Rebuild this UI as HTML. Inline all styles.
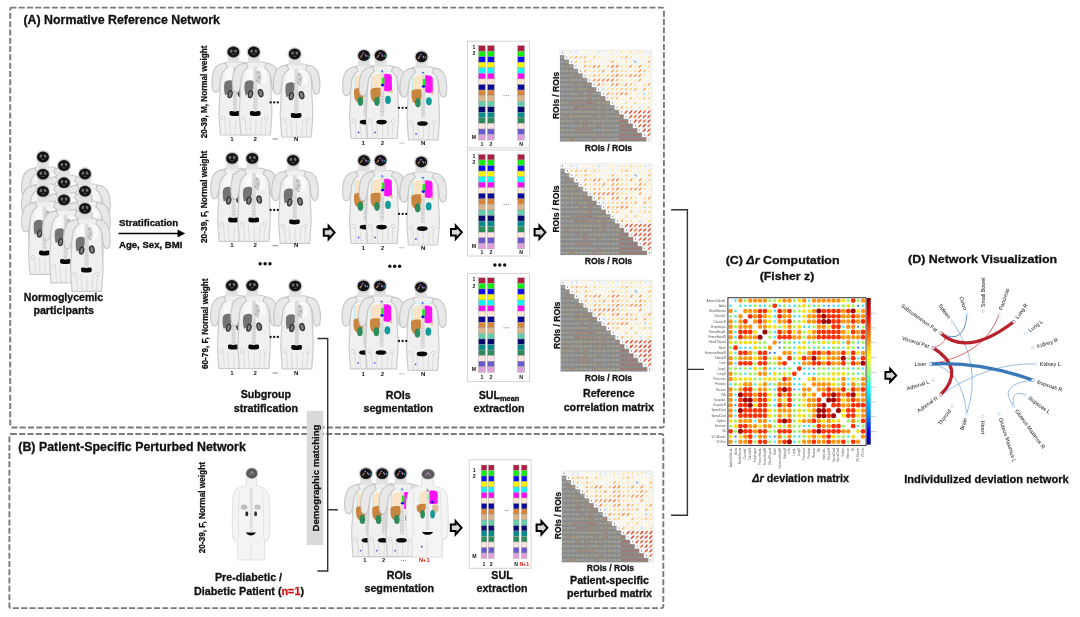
<!DOCTYPE html>
<html><head><meta charset="utf-8"><style>
html,body{margin:0;padding:0;background:#fff;width:1080px;height:617px;overflow:hidden}
svg{display:block;filter:blur(0.4px)}
text{font-family:"Liberation Sans",sans-serif}
</style></head><body>
<svg width="1080" height="617" viewBox="0 0 1080 617">
<defs>
<g id="pb"><path d="M -4.4,5 L -4.6,10 C -8,10.4 -11,11.6 -12.2,14.5 C -12.9,22 -13.2,30 -13.4,40 C -13.6,46 -14.3,54 -14.4,61 C -14,70 -13.4,77 -12.9,83 L 16.5,83 C 17,77 17.6,70 18,61 C 18.1,54 17.4,46 17.2,40 C 17,30 16.7,22 16,14.5 C 14.8,11.6 11.8,10.4 9.2,10 L 4.4,10 L 4.4,5 Z" fill="#f0f0f0" stroke="#cbcbcb" stroke-width="1.2"/><path d="M -8,17 C -6,15 8,15 12.5,17 L 13,30 C 8,32 -4,32 -8.5,30 Z" fill="#f8f8f8"/><path d="M 2,68 L 2,83 M -8.5,67 L -7.5,83 M 12.5,67 L 11.5,83 M -4,66 L -3,82 M 8,66 L 7,82" stroke="#d6d6d6" stroke-width="0.8" fill="none"/><rect x="-0.4" y="15" width="4" height="46" fill="#dcdcdc"/><path d="M -0.4,38 h4 M-0.4,41 h4 M-0.4,44 h4 M-0.4,47 h4 M-0.4,50 h4 M-0.4,53 h4 M-0.4,56 h4" stroke="#c6c6c6" stroke-width="0.6"/><circle cx="-10.3" cy="65.7" r="1.7" fill="#fafafa" stroke="#c4c4c4" stroke-width="0.7"/><circle cx="12.3" cy="65.7" r="1.7" fill="#fafafa" stroke="#c4c4c4" stroke-width="0.7"/><path d="M -7.5,11.2 C -13.5,11.2 -18,13.8 -19.8,19.5 C -21.6,25.5 -21.8,32.5 -20.6,37.6 C -19.8,40.4 -16.8,41 -15.2,39.4 C -13.8,37 -13.2,33 -12.7,28 C -12.2,22 -10,18 -6,15.8 Z" fill="#e8e8e8" stroke="#c6c6c6" stroke-width="1.1"/><path d="M 12.3,11.2 C 17.8,11.2 21.8,13.8 23.6,19.5 C 25.3,25.5 25.6,32.5 24.6,37.6 C 23.8,40.2 21,40.8 19.6,39.2 C 18.4,37 17.8,33 17.3,28 C 16.8,22 14.8,18 10.8,15.8 Z" fill="#e8e8e8" stroke="#c6c6c6" stroke-width="1.1"/><path d="M -5.6,4 L 5.6,4 L 6.4,11 L -6.2,11 Z" fill="#e2e2e2"/><ellipse cx="4.6" cy="25" rx="3.2" ry="6.5" fill="#d0d0d0"/><circle cx="4.2" cy="20.5" r="1.2" fill="#b4b4b4"/><circle cx="5.4" cy="25.5" r="1.4" fill="#b8b8b8"/><circle cx="3.4" cy="28.5" r="1" fill="#b0b0b0"/><circle cx="5.6" cy="31" r="0.9" fill="#b8b8b8"/><path d="M -0.3,29.5 C -2,27.8 -7,27.6 -8.7,30.5 C -9.7,33 -9.5,38.5 -8.3,43.2 C -5.5,42.4 -2,39.5 -0.4,36.5 Z" fill="#747474"/><ellipse cx="-3.3" cy="42.1" rx="2.0" ry="3.6" fill="#808080" stroke="#333" stroke-width="1.3" transform="rotate(15 -3.3 42.1)"/><ellipse cx="6.9" cy="41.2" rx="2.2" ry="3.6" fill="#808080" stroke="#333" stroke-width="1.3" transform="rotate(-12 6.9 41.2)"/><path d="M -3.9,60.5 C -3.9,58.6 -1,58.9 1.4,59.8 C 3.8,58.9 6.7,58.6 6.7,60.5 L 6.7,62.5 C 6.7,64.6 -3.9,64.6 -3.9,62.5 Z" fill="#060606"/><ellipse cx="0" cy="0" rx="7.2" ry="6.8" fill="#cfcfcf"/><ellipse cx="0" cy="0" rx="6" ry="5.4" fill="#141414"/><ellipse cx="-2.1" cy="-0.9" rx="1.3" ry="1.7" fill="#6e6e6e" transform="rotate(20 -2.1 -0.9)"/><ellipse cx="2.1" cy="-0.9" rx="1.3" ry="1.7" fill="#6e6e6e" transform="rotate(-20 2.1 -0.9)"/><ellipse cx="0" cy="2.3" rx="1.6" ry="0.7" fill="#4a4a4a"/></g>
<g id="sb"><path d="M -4.4,5 L -4.6,10 C -8,10.4 -11,11.6 -12.2,14.5 C -12.9,22 -13.2,30 -13.4,40 C -13.6,46 -14.3,54 -14.4,61 C -14,70 -13.4,77 -12.9,83 L 16.5,83 C 17,77 17.6,70 18,61 C 18.1,54 17.4,46 17.2,40 C 17,30 16.7,22 16,14.5 C 14.8,11.6 11.8,10.4 9.2,10 L 4.4,10 L 4.4,5 Z" fill="#f0f0f0" stroke="#cbcbcb" stroke-width="1.2"/><path d="M -8,17 C -6,15 8,15 12.5,17 L 13,30 C 8,32 -4,32 -8.5,30 Z" fill="#f8f8f8"/><path d="M 2,68 L 2,83 M -8.5,67 L -7.5,83 M 12.5,67 L 11.5,83 M -4,66 L -3,82 M 8,66 L 7,82" stroke="#d6d6d6" stroke-width="0.8" fill="none"/><rect x="-0.4" y="15" width="4" height="46" fill="#dcdcdc"/><path d="M -0.4,38 h4 M-0.4,41 h4 M-0.4,44 h4 M-0.4,47 h4 M-0.4,50 h4 M-0.4,53 h4 M-0.4,56 h4" stroke="#c6c6c6" stroke-width="0.6"/><circle cx="-10.3" cy="65.7" r="1.7" fill="#fafafa" stroke="#c4c4c4" stroke-width="0.7"/><circle cx="12.3" cy="65.7" r="1.7" fill="#fafafa" stroke="#c4c4c4" stroke-width="0.7"/><path d="M -7.5,11.2 C -13.5,11.2 -18,13.8 -19.8,19.5 C -21.6,25.5 -21.8,32.5 -20.6,37.6 C -19.8,40.4 -16.8,41 -15.2,39.4 C -13.8,37 -13.2,33 -12.7,28 C -12.2,22 -10,18 -6,15.8 Z" fill="#e8e8e8" stroke="#c6c6c6" stroke-width="1.1"/><path d="M 12.3,11.2 C 17.8,11.2 21.8,13.8 23.6,19.5 C 25.3,25.5 25.6,32.5 24.6,37.6 C 23.8,40.2 21,40.8 19.6,39.2 C 18.4,37 17.8,33 17.3,28 C 16.8,22 14.8,18 10.8,15.8 Z" fill="#e8e8e8" stroke="#c6c6c6" stroke-width="1.1"/><path d="M -5.6,4 L 5.6,4 L 6.4,11 L -6.2,11 Z" fill="#e2e2e2"/><path d="M -8.2,21.3 C -8.2,18.8 -4,18.1 1.2,18.5 L 1.4,35.3 C -1,36.8 -5,37.3 -8,36.5 Z" fill="#fbe4c6"/><path d="M 3.6,18.6 C 7,17.8 10.5,18.5 11.2,21 L 11.4,35 C 9,36.4 5.5,36.2 3.6,35.2 Z" fill="#ff10f5"/><path d="M -8.9,20 L -8.9,35.5" stroke="#8fe6e6" stroke-width="1" stroke-dasharray="1.2,0.8"/><path d="M -7,16.2 L 10,16.2" stroke="#a8eeee" stroke-width="0.7" stroke-dasharray="1.2,0.8"/><rect x="1.2" y="22" width="2.6" height="7.5" rx="1" fill="#22e622"/><ellipse cx="2" cy="29.6" rx="1.7" ry="1.3" fill="#1010dd"/><circle cx="1.6" cy="15.6" r="0.8" fill="#3030d0"/><ellipse cx="10.8" cy="36" rx="1.6" ry="1.5" fill="#dfc39c"/><path d="M -10,36 C -10.5,32.5 -6,31.8 -0.2,32.6 L 0,38 C 0,43 -2.5,46.2 -6,46.4 C -9,46.2 -10,42 -10,38 Z" fill="#c98640"/><ellipse cx="-3.6" cy="45.8" rx="2.8" ry="4.6" fill="#2f8c5a"/><ellipse cx="7.4" cy="44.4" rx="2.9" ry="4.1" fill="#159a9a"/><ellipse cx="1" cy="66.6" rx="5.3" ry="2.3" fill="#070707"/><circle cx="-5.4" cy="77" r="0.9" fill="#5858ee"/><ellipse cx="0" cy="0" rx="7.2" ry="6.8" fill="#cfcfcf"/><ellipse cx="0" cy="0" rx="5.9" ry="5.4" fill="#141414"/><path d="M -3.6,2.2 L -1.6,-0.8" stroke="#d08a60" stroke-width="1.1"/><path d="M -1.4,-1.6 L 0,-3" stroke="#b070e0" stroke-width="1.1"/><path d="M 1.2,-1.2 L 2.6,1.2" stroke="#b088e0" stroke-width="1.1"/><path d="M 3.8,-0.4 L 4.4,1.4" stroke="#20b0b0" stroke-width="1.1"/></g>
<g id="rc"><rect x="0" y="0" width="6.8" height="5.56" fill="#ac1f42" stroke="#a0a0a0" stroke-width="0.4"/><rect x="0" y="5.56" width="6.8" height="5.56" fill="#12ee12" stroke="#a0a0a0" stroke-width="0.4"/><rect x="0" y="11.12" width="6.8" height="5.56" fill="#1010ee" stroke="#a0a0a0" stroke-width="0.4"/><rect x="0" y="16.68" width="6.8" height="5.56" fill="#f5f500" stroke="#a0a0a0" stroke-width="0.4"/><rect x="0" y="22.24" width="6.8" height="5.56" fill="#0ff6f6" stroke="#a0a0a0" stroke-width="0.4"/><rect x="0" y="27.8" width="6.8" height="5.56" fill="#f70ef7" stroke="#a0a0a0" stroke-width="0.4"/><rect x="0" y="33.36" width="6.8" height="5.56" fill="#fde8cf" stroke="#a0a0a0" stroke-width="0.4"/><rect x="0" y="38.92" width="6.8" height="5.56" fill="#0a0a98" stroke="#a0a0a0" stroke-width="0.4"/><rect x="0" y="44.48" width="6.8" height="5.56" fill="#d7853c" stroke="#a0a0a0" stroke-width="0.4"/><rect x="0" y="50.04" width="6.8" height="5.56" fill="#d8b48c" stroke="#a0a0a0" stroke-width="0.4"/><rect x="0" y="55.6" width="6.8" height="5.56" fill="#66cdaa" stroke="#a0a0a0" stroke-width="0.4"/><rect x="0" y="61.16" width="6.8" height="5.56" fill="#06066e" stroke="#a0a0a0" stroke-width="0.4"/><rect x="0" y="66.72" width="6.8" height="5.56" fill="#058b8b" stroke="#a0a0a0" stroke-width="0.4"/><rect x="0" y="72.28" width="6.8" height="5.56" fill="#2e8b57" stroke="#a0a0a0" stroke-width="0.4"/><rect x="0" y="77.84" width="6.8" height="5.56" fill="#ffe4e1" stroke="#a0a0a0" stroke-width="0.4"/><rect x="0" y="83.4" width="6.8" height="5.56" fill="#6a5acd" stroke="#a0a0a0" stroke-width="0.4"/><rect x="0" y="88.96" width="6.8" height="5.56" fill="#dda0dd" stroke="#a0a0a0" stroke-width="0.4"/></g>
<g id="rc2"><rect x="0" y="0" width="5.6" height="5.5" fill="#ac1f42" stroke="#a0a0a0" stroke-width="0.4"/><rect x="0" y="5.5" width="5.6" height="5.5" fill="#12ee12" stroke="#a0a0a0" stroke-width="0.4"/><rect x="0" y="11" width="5.6" height="5.5" fill="#1010ee" stroke="#a0a0a0" stroke-width="0.4"/><rect x="0" y="16.5" width="5.6" height="5.5" fill="#f5f500" stroke="#a0a0a0" stroke-width="0.4"/><rect x="0" y="22" width="5.6" height="5.5" fill="#0ff6f6" stroke="#a0a0a0" stroke-width="0.4"/><rect x="0" y="27.5" width="5.6" height="5.5" fill="#f70ef7" stroke="#a0a0a0" stroke-width="0.4"/><rect x="0" y="33" width="5.6" height="5.5" fill="#fde8cf" stroke="#a0a0a0" stroke-width="0.4"/><rect x="0" y="38.5" width="5.6" height="5.5" fill="#0a0a98" stroke="#a0a0a0" stroke-width="0.4"/><rect x="0" y="44" width="5.6" height="5.5" fill="#d7853c" stroke="#a0a0a0" stroke-width="0.4"/><rect x="0" y="49.5" width="5.6" height="5.5" fill="#d8b48c" stroke="#a0a0a0" stroke-width="0.4"/><rect x="0" y="55" width="5.6" height="5.5" fill="#66cdaa" stroke="#a0a0a0" stroke-width="0.4"/><rect x="0" y="60.5" width="5.6" height="5.5" fill="#06066e" stroke="#a0a0a0" stroke-width="0.4"/><rect x="0" y="66" width="5.6" height="5.5" fill="#058b8b" stroke="#a0a0a0" stroke-width="0.4"/><rect x="0" y="71.5" width="5.6" height="5.5" fill="#2e8b57" stroke="#a0a0a0" stroke-width="0.4"/><rect x="0" y="77" width="5.6" height="5.5" fill="#ffe4e1" stroke="#a0a0a0" stroke-width="0.4"/><rect x="0" y="82.5" width="5.6" height="5.5" fill="#6a5acd" stroke="#a0a0a0" stroke-width="0.4"/><rect x="0" y="88" width="5.6" height="5.5" fill="#dda0dd" stroke="#a0a0a0" stroke-width="0.4"/></g>
<g id="cm"><rect x="0" y="0" width="91.2" height="91.2" fill="#fff" stroke="#e0e0e0" stroke-width="0.5"/><polygon points="0,4.56 4.56,4.56 4.56,9.12 9.12,9.12 9.12,13.68 13.68,13.68 13.68,18.24 18.24,18.24 18.24,22.8 22.8,22.8 22.8,27.36 27.36,27.36 27.36,31.92 31.92,31.92 31.92,36.48 36.48,36.48 36.48,41.04 41.04,41.04 41.04,45.6 45.6,45.6 45.6,50.16 50.16,50.16 50.16,54.72 54.72,54.72 54.72,59.28 59.28,59.28 59.28,63.84 63.84,63.84 63.84,68.4 68.4,68.4 68.4,72.96 72.96,72.96 72.96,77.52 77.52,77.52 77.52,82.08 82.08,82.08 82.08,86.64 86.64,86.64 86.64,91.2 91.2,91.2 0,91.2" fill="#8b8b8b"/><path d="M0,0 V4.56 M0,0 H91.2 M4.56,0 V9.12 M0,4.56 H91.2 M9.12,0 V13.68 M4.56,9.12 H91.2 M13.68,0 V18.24 M9.12,13.68 H91.2 M18.24,0 V22.8 M13.68,18.24 H91.2 M22.8,0 V27.36 M18.24,22.8 H91.2 M27.36,0 V31.92 M22.8,27.36 H91.2 M31.92,0 V36.48 M27.36,31.92 H91.2 M36.48,0 V41.04 M31.92,36.48 H91.2 M41.04,0 V45.6 M36.48,41.04 H91.2 M45.6,0 V50.16 M41.04,45.6 H91.2 M50.16,0 V54.72 M45.6,50.16 H91.2 M54.72,0 V59.28 M50.16,54.72 H91.2 M59.28,0 V63.84 M54.72,59.28 H91.2 M63.84,0 V68.4 M59.28,63.84 H91.2 M68.4,0 V72.96 M63.84,68.4 H91.2 M72.96,0 V77.52 M68.4,72.96 H91.2 M77.52,0 V82.08 M72.96,77.52 H91.2 M82.08,0 V86.64 M77.52,82.08 H91.2 M86.64,0 V91.2 M82.08,86.64 H91.2 M91.2,0 V91.2 M86.64,91.2 H91.2" stroke="#e2e2e2" stroke-width="0.45" fill="none"/><rect x="1.98" y="1.48" width="0.6" height="1.6" fill="#444"/><ellipse cx="6.84" cy="2.28" rx="1.32" ry="1.29" fill="#fbf5df" transform="rotate(-45 6.84 2.28)"/><ellipse cx="11.4" cy="2.28" rx="1.37" ry="1.27" fill="#d8e6ec" transform="rotate(45 11.4 2.28)"/><ellipse cx="15.96" cy="2.28" rx="1.37" ry="1.26" fill="#d6e5ec" transform="rotate(45 15.96 2.28)"/><ellipse cx="20.52" cy="2.28" rx="1.33" ry="1.28" fill="#fbf4da" transform="rotate(-45 20.52 2.28)"/><ellipse cx="25.08" cy="2.28" rx="1.4" ry="1.25" fill="#fcf0c5" transform="rotate(-45 25.08 2.28)"/><ellipse cx="29.64" cy="2.28" rx="1.3" ry="1.3" fill="#fbf6e2" transform="rotate(-45 29.64 2.28)"/><ellipse cx="34.2" cy="2.28" rx="1.47" ry="1.21" fill="#feecaf" transform="rotate(-45 34.2 2.28)"/><ellipse cx="38.76" cy="2.28" rx="1.38" ry="1.26" fill="#d5e4eb" transform="rotate(45 38.76 2.28)"/><ellipse cx="43.32" cy="2.28" rx="1.31" ry="1.3" fill="#e4edef" transform="rotate(45 43.32 2.28)"/><ellipse cx="47.88" cy="2.28" rx="1.39" ry="1.26" fill="#fcf1ca" transform="rotate(-45 47.88 2.28)"/><ellipse cx="52.44" cy="2.28" rx="1.5" ry="1.2" fill="#feeaa6" transform="rotate(-45 52.44 2.28)"/><ellipse cx="57" cy="2.28" rx="1.32" ry="1.29" fill="#e1ebef" transform="rotate(45 57 2.28)"/><ellipse cx="61.56" cy="2.28" rx="1.52" ry="1.19" fill="#fee7a2" transform="rotate(-45 61.56 2.28)"/><ellipse cx="66.12" cy="2.28" rx="1.48" ry="1.21" fill="#feebae" transform="rotate(-45 66.12 2.28)"/><ellipse cx="70.68" cy="2.28" rx="1.57" ry="1.16" fill="#fedf99" transform="rotate(-45 70.68 2.28)"/><ellipse cx="75.24" cy="2.28" rx="1.47" ry="1.22" fill="#feecaf" transform="rotate(-45 75.24 2.28)"/><ellipse cx="79.8" cy="2.28" rx="1.54" ry="1.18" fill="#fee39e" transform="rotate(-45 79.8 2.28)"/><ellipse cx="84.36" cy="2.28" rx="1.34" ry="1.28" fill="#dce8ed" transform="rotate(45 84.36 2.28)"/><ellipse cx="88.92" cy="2.28" rx="1.33" ry="1.29" fill="#e0eaee" transform="rotate(45 88.92 2.28)"/><rect x="0.48" y="6.14" width="3.6" height="1.4" fill="#b4b8ac" opacity="0.6"/><rect x="6.54" y="6.04" width="0.6" height="1.6" fill="#444"/><ellipse cx="11.4" cy="6.84" rx="1.66" ry="1.12" fill="#fdd188" transform="rotate(-45 11.4 6.84)"/><ellipse cx="15.96" cy="6.84" rx="1.76" ry="1.07" fill="#fcbe76" transform="rotate(-45 15.96 6.84)"/><ellipse cx="20.52" cy="6.84" rx="1.63" ry="1.14" fill="#fdd68f" transform="rotate(-45 20.52 6.84)"/><ellipse cx="25.08" cy="6.84" rx="1.74" ry="1.08" fill="#fcc179" transform="rotate(-45 25.08 6.84)"/><ellipse cx="29.64" cy="6.84" rx="1.41" ry="1.25" fill="#fdefc2" transform="rotate(-45 29.64 6.84)"/><ellipse cx="34.2" cy="6.84" rx="1.65" ry="1.12" fill="#fdd28a" transform="rotate(-45 34.2 6.84)"/><ellipse cx="38.76" cy="6.84" rx="1.48" ry="1.21" fill="#feebab" transform="rotate(-45 38.76 6.84)"/><ellipse cx="43.32" cy="6.84" rx="1.36" ry="1.27" fill="#fcf2d1" transform="rotate(-45 43.32 6.84)"/><ellipse cx="47.88" cy="6.84" rx="1.33" ry="1.28" fill="#fbf4da" transform="rotate(-45 47.88 6.84)"/><ellipse cx="52.44" cy="6.84" rx="1.41" ry="1.24" fill="#fdefc2" transform="rotate(-45 52.44 6.84)"/><ellipse cx="57" cy="6.84" rx="1.44" ry="1.23" fill="#fdeeb9" transform="rotate(-45 57 6.84)"/><ellipse cx="61.56" cy="6.84" rx="1.61" ry="1.15" fill="#fdd993" transform="rotate(-45 61.56 6.84)"/><ellipse cx="66.12" cy="6.84" rx="1.76" ry="1.07" fill="#fcbf77" transform="rotate(-45 66.12 6.84)"/><ellipse cx="70.68" cy="6.84" rx="1.52" ry="1.19" fill="#fee7a3" transform="rotate(-45 70.68 6.84)"/><ellipse cx="75.24" cy="6.84" rx="1.34" ry="1.28" fill="#fcf4d9" transform="rotate(-45 75.24 6.84)"/><ellipse cx="79.8" cy="6.84" rx="1.46" ry="1.22" fill="#fdecb3" transform="rotate(-45 79.8 6.84)"/><ellipse cx="84.36" cy="6.84" rx="1.35" ry="1.27" fill="#fcf3d4" transform="rotate(-45 84.36 6.84)"/><ellipse cx="88.92" cy="6.84" rx="1.52" ry="1.19" fill="#fee6a2" transform="rotate(-45 88.92 6.84)"/><rect x="0.48" y="10.7" width="3.6" height="1.4" fill="#a8b8d0" opacity="0.6"/><rect x="5.04" y="10.7" width="3.6" height="1.4" fill="#c8b47c" opacity="0.6"/><rect x="11.1" y="10.6" width="0.6" height="1.6" fill="#444"/><ellipse cx="15.96" cy="11.4" rx="1.67" ry="1.11" fill="#fdcf87" transform="rotate(-45 15.96 11.4)"/><ellipse cx="20.52" cy="11.4" rx="1.41" ry="1.24" fill="#fdefc2" transform="rotate(-45 20.52 11.4)"/><ellipse cx="25.08" cy="11.4" rx="1.72" ry="1.09" fill="#fdc77f" transform="rotate(-45 25.08 11.4)"/><ellipse cx="29.64" cy="11.4" rx="1.53" ry="1.18" fill="#fee5a0" transform="rotate(-45 29.64 11.4)"/><ellipse cx="34.2" cy="11.4" rx="1.4" ry="1.25" fill="#fdf0c4" transform="rotate(-45 34.2 11.4)"/><ellipse cx="38.76" cy="11.4" rx="1.34" ry="1.28" fill="#fcf3d6" transform="rotate(-45 38.76 11.4)"/><ellipse cx="43.32" cy="11.4" rx="1.32" ry="1.29" fill="#fbf5dd" transform="rotate(-45 43.32 11.4)"/><ellipse cx="47.88" cy="11.4" rx="1.4" ry="1.25" fill="#fcf0c6" transform="rotate(-45 47.88 11.4)"/><ellipse cx="52.44" cy="11.4" rx="1.76" ry="1.07" fill="#fcbe76" transform="rotate(-45 52.44 11.4)"/><ellipse cx="57" cy="11.4" rx="1.47" ry="1.22" fill="#feecb0" transform="rotate(-45 57 11.4)"/><ellipse cx="61.56" cy="11.4" rx="1.41" ry="1.25" fill="#fdf0c3" transform="rotate(-45 61.56 11.4)"/><ellipse cx="66.12" cy="11.4" rx="1.57" ry="1.17" fill="#fedf9a" transform="rotate(-45 66.12 11.4)"/><ellipse cx="70.68" cy="11.4" rx="1.4" ry="1.25" fill="#fcf0c6" transform="rotate(-45 70.68 11.4)"/><ellipse cx="75.24" cy="11.4" rx="1.64" ry="1.13" fill="#9dc4dc" transform="rotate(45 75.24 11.4)"/><ellipse cx="79.8" cy="11.4" rx="1.39" ry="1.26" fill="#fcf1c8" transform="rotate(-45 79.8 11.4)"/><ellipse cx="84.36" cy="11.4" rx="1.36" ry="1.27" fill="#fcf2d1" transform="rotate(-45 84.36 11.4)"/><ellipse cx="88.92" cy="11.4" rx="1.76" ry="1.07" fill="#fcbf77" transform="rotate(-45 88.92 11.4)"/><rect x="0.48" y="15.26" width="3.6" height="1.4" fill="#a8b8d0" opacity="0.6"/><rect x="5.04" y="15.26" width="3.6" height="1.4" fill="#c88a60" opacity="0.6"/><rect x="9.6" y="15.26" width="3.6" height="1.4" fill="#c8b47c" opacity="0.6"/><rect x="15.66" y="15.16" width="0.6" height="1.6" fill="#444"/><ellipse cx="20.52" cy="15.96" rx="1.37" ry="1.27" fill="#fcf2cf" transform="rotate(-45 20.52 15.96)"/><ellipse cx="25.08" cy="15.96" rx="1.8" ry="1.05" fill="#fbb56f" transform="rotate(-45 25.08 15.96)"/><ellipse cx="29.64" cy="15.96" rx="1.65" ry="1.12" fill="#fdd28a" transform="rotate(-45 29.64 15.96)"/><ellipse cx="34.2" cy="15.96" rx="1.95" ry="0.97" fill="#f79456" transform="rotate(-45 34.2 15.96)"/><ellipse cx="38.76" cy="15.96" rx="1.9" ry="1" fill="#f9a05c" transform="rotate(-45 38.76 15.96)"/><ellipse cx="43.32" cy="15.96" rx="1.43" ry="1.24" fill="#fdeebd" transform="rotate(-45 43.32 15.96)"/><ellipse cx="47.88" cy="15.96" rx="1.68" ry="1.11" fill="#fdce85" transform="rotate(-45 47.88 15.96)"/><ellipse cx="52.44" cy="15.96" rx="2" ry="0.95" fill="#f68950" transform="rotate(-45 52.44 15.96)"/><ellipse cx="57" cy="15.96" rx="2.01" ry="0.94" fill="#f5864e" transform="rotate(-45 57 15.96)"/><ellipse cx="61.56" cy="15.96" rx="1.57" ry="1.16" fill="#fedf99" transform="rotate(-45 61.56 15.96)"/><ellipse cx="66.12" cy="15.96" rx="1.57" ry="1.17" fill="#fee09a" transform="rotate(-45 66.12 15.96)"/><ellipse cx="70.68" cy="15.96" rx="1.87" ry="1.02" fill="#faa863" transform="rotate(-45 70.68 15.96)"/><ellipse cx="75.24" cy="15.96" rx="1.46" ry="1.22" fill="#fdecb1" transform="rotate(-45 75.24 15.96)"/><ellipse cx="79.8" cy="15.96" rx="1.9" ry="1" fill="#f9a15c" transform="rotate(-45 79.8 15.96)"/><ellipse cx="84.36" cy="15.96" rx="1.42" ry="1.24" fill="#fdefbf" transform="rotate(-45 84.36 15.96)"/><ellipse cx="88.92" cy="15.96" rx="1.63" ry="1.14" fill="#fdd68f" transform="rotate(-45 88.92 15.96)"/><rect x="0.48" y="19.82" width="3.6" height="1.4" fill="#b4b8ac" opacity="0.6"/><rect x="5.04" y="19.82" width="3.6" height="1.4" fill="#c8b47c" opacity="0.6"/><rect x="9.6" y="19.82" width="3.6" height="1.4" fill="#b4b8ac" opacity="0.6"/><rect x="14.16" y="19.82" width="3.6" height="1.4" fill="#b4b8ac" opacity="0.6"/><rect x="20.22" y="19.72" width="0.6" height="1.6" fill="#444"/><ellipse cx="25.08" cy="20.52" rx="1.74" ry="1.08" fill="#fcc37b" transform="rotate(-45 25.08 20.52)"/><ellipse cx="29.64" cy="20.52" rx="1.48" ry="1.21" fill="#feebad" transform="rotate(-45 29.64 20.52)"/><ellipse cx="34.2" cy="20.52" rx="1.62" ry="1.14" fill="#fdd790" transform="rotate(-45 34.2 20.52)"/><ellipse cx="38.76" cy="20.52" rx="1.62" ry="1.14" fill="#fdd891" transform="rotate(-45 38.76 20.52)"/><ellipse cx="43.32" cy="20.52" rx="1.86" ry="1.02" fill="#faa964" transform="rotate(-45 43.32 20.52)"/><ellipse cx="47.88" cy="20.52" rx="1.39" ry="1.25" fill="#fcf0c7" transform="rotate(-45 47.88 20.52)"/><ellipse cx="52.44" cy="20.52" rx="1.86" ry="1.02" fill="#faaa64" transform="rotate(-45 52.44 20.52)"/><ellipse cx="57" cy="20.52" rx="1.75" ry="1.07" fill="#fcbf78" transform="rotate(-45 57 20.52)"/><ellipse cx="61.56" cy="20.52" rx="1.57" ry="1.17" fill="#fedf9a" transform="rotate(-45 61.56 20.52)"/><ellipse cx="66.12" cy="20.52" rx="1.58" ry="1.16" fill="#fedd97" transform="rotate(-45 66.12 20.52)"/><ellipse cx="70.68" cy="20.52" rx="1.41" ry="1.24" fill="#fdefc2" transform="rotate(-45 70.68 20.52)"/><ellipse cx="75.24" cy="20.52" rx="1.64" ry="1.13" fill="#fdd58d" transform="rotate(-45 75.24 20.52)"/><ellipse cx="79.8" cy="20.52" rx="1.9" ry="1" fill="#f9a15d" transform="rotate(-45 79.8 20.52)"/><ellipse cx="84.36" cy="20.52" rx="1.71" ry="1.1" fill="#fdca81" transform="rotate(-45 84.36 20.52)"/><ellipse cx="88.92" cy="20.52" rx="1.48" ry="1.21" fill="#feebad" transform="rotate(-45 88.92 20.52)"/><rect x="0.48" y="24.38" width="3.6" height="1.4" fill="#b4b8ac" opacity="0.6"/><rect x="5.04" y="24.38" width="3.6" height="1.4" fill="#c8b47c" opacity="0.6"/><rect x="9.6" y="24.38" width="3.6" height="1.4" fill="#c8b47c" opacity="0.6"/><rect x="14.16" y="24.38" width="3.6" height="1.4" fill="#c88a60" opacity="0.6"/><rect x="18.72" y="24.38" width="3.6" height="1.4" fill="#c8b47c" opacity="0.6"/><rect x="24.78" y="24.28" width="0.6" height="1.6" fill="#444"/><ellipse cx="29.64" cy="25.08" rx="1.55" ry="1.17" fill="#fee29d" transform="rotate(-45 29.64 25.08)"/><ellipse cx="34.2" cy="25.08" rx="1.77" ry="1.06" fill="#fcbb74" transform="rotate(-45 34.2 25.08)"/><ellipse cx="38.76" cy="25.08" rx="1.7" ry="1.1" fill="#fdca81" transform="rotate(-45 38.76 25.08)"/><ellipse cx="43.32" cy="25.08" rx="1.49" ry="1.21" fill="#feebaa" transform="rotate(-45 43.32 25.08)"/><ellipse cx="47.88" cy="25.08" rx="1.67" ry="1.12" fill="#fdd088" transform="rotate(-45 47.88 25.08)"/><ellipse cx="52.44" cy="25.08" rx="1.79" ry="1.06" fill="#fbb871" transform="rotate(-45 52.44 25.08)"/><ellipse cx="57" cy="25.08" rx="1.98" ry="0.96" fill="#f68e53" transform="rotate(-45 57 25.08)"/><ellipse cx="61.56" cy="25.08" rx="1.71" ry="1.1" fill="#fdc981" transform="rotate(-45 61.56 25.08)"/><ellipse cx="66.12" cy="25.08" rx="1.68" ry="1.11" fill="#fdce85" transform="rotate(-45 66.12 25.08)"/><ellipse cx="70.68" cy="25.08" rx="1.91" ry="0.99" fill="#f99d5a" transform="rotate(-45 70.68 25.08)"/><ellipse cx="75.24" cy="25.08" rx="1.91" ry="0.99" fill="#f99d5a" transform="rotate(-45 75.24 25.08)"/><ellipse cx="79.8" cy="25.08" rx="1.91" ry="0.99" fill="#f99d5a" transform="rotate(-45 79.8 25.08)"/><ellipse cx="84.36" cy="25.08" rx="1.53" ry="1.19" fill="#fee6a1" transform="rotate(-45 84.36 25.08)"/><ellipse cx="88.92" cy="25.08" rx="1.38" ry="1.26" fill="#fcf1ca" transform="rotate(-45 88.92 25.08)"/><rect x="0.48" y="28.94" width="3.6" height="1.4" fill="#b4b8ac" opacity="0.6"/><rect x="5.04" y="28.94" width="3.6" height="1.4" fill="#b4b8ac" opacity="0.6"/><rect x="9.6" y="28.94" width="3.6" height="1.4" fill="#c8b47c" opacity="0.6"/><rect x="14.16" y="28.94" width="3.6" height="1.4" fill="#c8b47c" opacity="0.6"/><rect x="18.72" y="28.94" width="3.6" height="1.4" fill="#b4b8ac" opacity="0.6"/><rect x="23.28" y="28.94" width="3.6" height="1.4" fill="#c8b47c" opacity="0.6"/><rect x="29.34" y="28.84" width="0.6" height="1.6" fill="#444"/><ellipse cx="34.2" cy="29.64" rx="1.92" ry="0.99" fill="#f89c5a" transform="rotate(-45 34.2 29.64)"/><ellipse cx="38.76" cy="29.64" rx="1.89" ry="1.01" fill="#f9a35f" transform="rotate(-45 38.76 29.64)"/><ellipse cx="43.32" cy="29.64" rx="1.96" ry="0.97" fill="#f79154" transform="rotate(-45 43.32 29.64)"/><ellipse cx="47.88" cy="29.64" rx="2" ry="0.95" fill="#f68a50" transform="rotate(-45 47.88 29.64)"/><ellipse cx="52.44" cy="29.64" rx="2.02" ry="0.94" fill="#f5854e" transform="rotate(-45 52.44 29.64)"/><ellipse cx="57" cy="29.64" rx="1.75" ry="1.07" fill="#fcc078" transform="rotate(-45 57 29.64)"/><ellipse cx="61.56" cy="29.64" rx="1.56" ry="1.17" fill="#fee09b" transform="rotate(-45 61.56 29.64)"/><ellipse cx="66.12" cy="29.64" rx="1.48" ry="1.21" fill="#feebac" transform="rotate(-45 66.12 29.64)"/><ellipse cx="70.68" cy="29.64" rx="1.48" ry="1.21" fill="#feebad" transform="rotate(-45 70.68 29.64)"/><ellipse cx="75.24" cy="29.64" rx="1.42" ry="1.24" fill="#fdefbe" transform="rotate(-45 75.24 29.64)"/><ellipse cx="79.8" cy="29.64" rx="1.84" ry="1.03" fill="#faad67" transform="rotate(-45 79.8 29.64)"/><ellipse cx="84.36" cy="29.64" rx="1.39" ry="1.26" fill="#fcf1c9" transform="rotate(-45 84.36 29.64)"/><ellipse cx="88.92" cy="29.64" rx="1.39" ry="1.26" fill="#fcf1c8" transform="rotate(-45 88.92 29.64)"/><rect x="0.48" y="33.5" width="3.6" height="1.4" fill="#b4b8ac" opacity="0.6"/><rect x="5.04" y="33.5" width="3.6" height="1.4" fill="#c8b47c" opacity="0.6"/><rect x="9.6" y="33.5" width="3.6" height="1.4" fill="#b4b8ac" opacity="0.6"/><rect x="14.16" y="33.5" width="3.6" height="1.4" fill="#c88a60" opacity="0.6"/><rect x="18.72" y="33.5" width="3.6" height="1.4" fill="#c8b47c" opacity="0.6"/><rect x="23.28" y="33.5" width="3.6" height="1.4" fill="#c88a60" opacity="0.6"/><rect x="27.84" y="33.5" width="3.6" height="1.4" fill="#c88a60" opacity="0.6"/><rect x="33.9" y="33.4" width="0.6" height="1.6" fill="#444"/><ellipse cx="38.76" cy="34.2" rx="1.98" ry="0.96" fill="#f68e53" transform="rotate(-45 38.76 34.2)"/><ellipse cx="43.32" cy="34.2" rx="1.62" ry="1.14" fill="#fdd790" transform="rotate(-45 43.32 34.2)"/><ellipse cx="47.88" cy="34.2" rx="1.47" ry="1.21" fill="#feecae" transform="rotate(-45 47.88 34.2)"/><ellipse cx="52.44" cy="34.2" rx="1.87" ry="1.01" fill="#faa661" transform="rotate(-45 52.44 34.2)"/><ellipse cx="57" cy="34.2" rx="1.99" ry="0.95" fill="#f68b51" transform="rotate(-45 57 34.2)"/><ellipse cx="61.56" cy="34.2" rx="1.51" ry="1.2" fill="#fee9a4" transform="rotate(-45 61.56 34.2)"/><ellipse cx="66.12" cy="34.2" rx="1.88" ry="1.01" fill="#f9a561" transform="rotate(-45 66.12 34.2)"/><ellipse cx="70.68" cy="34.2" rx="1.73" ry="1.09" fill="#fcc57c" transform="rotate(-45 70.68 34.2)"/><ellipse cx="75.24" cy="34.2" rx="1.53" ry="1.18" fill="#fee5a0" transform="rotate(-45 75.24 34.2)"/><ellipse cx="79.8" cy="34.2" rx="1.37" ry="1.27" fill="#fcf2cf" transform="rotate(-45 79.8 34.2)"/><ellipse cx="84.36" cy="34.2" rx="1.56" ry="1.17" fill="#fee09a" transform="rotate(-45 84.36 34.2)"/><ellipse cx="88.92" cy="34.2" rx="1.83" ry="1.04" fill="#fab06a" transform="rotate(-45 88.92 34.2)"/><rect x="0.48" y="38.06" width="3.6" height="1.4" fill="#a8b8d0" opacity="0.6"/><rect x="5.04" y="38.06" width="3.6" height="1.4" fill="#b4b8ac" opacity="0.6"/><rect x="9.6" y="38.06" width="3.6" height="1.4" fill="#b4b8ac" opacity="0.6"/><rect x="14.16" y="38.06" width="3.6" height="1.4" fill="#c88a60" opacity="0.6"/><rect x="18.72" y="38.06" width="3.6" height="1.4" fill="#c8b47c" opacity="0.6"/><rect x="23.28" y="38.06" width="3.6" height="1.4" fill="#c8b47c" opacity="0.6"/><rect x="27.84" y="38.06" width="3.6" height="1.4" fill="#c88a60" opacity="0.6"/><rect x="32.4" y="38.06" width="3.6" height="1.4" fill="#c88a60" opacity="0.6"/><rect x="38.46" y="37.96" width="0.6" height="1.6" fill="#444"/><ellipse cx="43.32" cy="38.76" rx="1.46" ry="1.22" fill="#c3dae6" transform="rotate(45 43.32 38.76)"/><ellipse cx="47.88" cy="38.76" rx="1.56" ry="1.17" fill="#fee19c" transform="rotate(-45 47.88 38.76)"/><ellipse cx="52.44" cy="38.76" rx="1.64" ry="1.13" fill="#fdd48d" transform="rotate(-45 52.44 38.76)"/><ellipse cx="57" cy="38.76" rx="1.6" ry="1.15" fill="#fedb94" transform="rotate(-45 57 38.76)"/><ellipse cx="61.56" cy="38.76" rx="1.7" ry="1.1" fill="#fdca81" transform="rotate(-45 61.56 38.76)"/><ellipse cx="66.12" cy="38.76" rx="1.71" ry="1.1" fill="#fdc980" transform="rotate(-45 66.12 38.76)"/><ellipse cx="70.68" cy="38.76" rx="1.63" ry="1.13" fill="#fdd68e" transform="rotate(-45 70.68 38.76)"/><ellipse cx="75.24" cy="38.76" rx="1.77" ry="1.07" fill="#fcbc75" transform="rotate(-45 75.24 38.76)"/><ellipse cx="79.8" cy="38.76" rx="1.36" ry="1.27" fill="#fcf2d2" transform="rotate(-45 79.8 38.76)"/><ellipse cx="84.36" cy="38.76" rx="1.82" ry="1.04" fill="#fbb26c" transform="rotate(-45 84.36 38.76)"/><ellipse cx="88.92" cy="38.76" rx="1.51" ry="1.2" fill="#fee8a4" transform="rotate(-45 88.92 38.76)"/><rect x="0.48" y="42.62" width="3.6" height="1.4" fill="#a8b8d0" opacity="0.6"/><rect x="5.04" y="42.62" width="3.6" height="1.4" fill="#b4b8ac" opacity="0.6"/><rect x="9.6" y="42.62" width="3.6" height="1.4" fill="#b4b8ac" opacity="0.6"/><rect x="14.16" y="42.62" width="3.6" height="1.4" fill="#b4b8ac" opacity="0.6"/><rect x="18.72" y="42.62" width="3.6" height="1.4" fill="#c88a60" opacity="0.6"/><rect x="23.28" y="42.62" width="3.6" height="1.4" fill="#b4b8ac" opacity="0.6"/><rect x="27.84" y="42.62" width="3.6" height="1.4" fill="#c88a60" opacity="0.6"/><rect x="32.4" y="42.62" width="3.6" height="1.4" fill="#c8b47c" opacity="0.6"/><rect x="36.96" y="42.62" width="3.6" height="1.4" fill="#a8b8d0" opacity="0.6"/><rect x="43.02" y="42.52" width="0.6" height="1.6" fill="#444"/><ellipse cx="47.88" cy="43.32" rx="1.87" ry="1.02" fill="#faa763" transform="rotate(-45 47.88 43.32)"/><ellipse cx="52.44" cy="43.32" rx="1.69" ry="1.11" fill="#fdcd84" transform="rotate(-45 52.44 43.32)"/><ellipse cx="57" cy="43.32" rx="1.76" ry="1.07" fill="#fcbe77" transform="rotate(-45 57 43.32)"/><ellipse cx="61.56" cy="43.32" rx="1.93" ry="0.99" fill="#f89a59" transform="rotate(-45 61.56 43.32)"/><ellipse cx="66.12" cy="43.32" rx="1.92" ry="0.99" fill="#f89b59" transform="rotate(-45 66.12 43.32)"/><ellipse cx="70.68" cy="43.32" rx="1.47" ry="1.21" fill="#feecaf" transform="rotate(-45 70.68 43.32)"/><ellipse cx="75.24" cy="43.32" rx="1.42" ry="1.24" fill="#fdefbe" transform="rotate(-45 75.24 43.32)"/><ellipse cx="79.8" cy="43.32" rx="1.47" ry="1.21" fill="#feecaf" transform="rotate(-45 79.8 43.32)"/><ellipse cx="84.36" cy="43.32" rx="1.48" ry="1.21" fill="#c0d8e5" transform="rotate(45 84.36 43.32)"/><ellipse cx="88.92" cy="43.32" rx="1.58" ry="1.16" fill="#fede98" transform="rotate(-45 88.92 43.32)"/><rect x="0.48" y="47.18" width="3.6" height="1.4" fill="#b4b8ac" opacity="0.6"/><rect x="5.04" y="47.18" width="3.6" height="1.4" fill="#b4b8ac" opacity="0.6"/><rect x="9.6" y="47.18" width="3.6" height="1.4" fill="#b4b8ac" opacity="0.6"/><rect x="14.16" y="47.18" width="3.6" height="1.4" fill="#c8b47c" opacity="0.6"/><rect x="18.72" y="47.18" width="3.6" height="1.4" fill="#b4b8ac" opacity="0.6"/><rect x="23.28" y="47.18" width="3.6" height="1.4" fill="#c8b47c" opacity="0.6"/><rect x="27.84" y="47.18" width="3.6" height="1.4" fill="#c88a60" opacity="0.6"/><rect x="32.4" y="47.18" width="3.6" height="1.4" fill="#b4b8ac" opacity="0.6"/><rect x="36.96" y="47.18" width="3.6" height="1.4" fill="#c8b47c" opacity="0.6"/><rect x="41.52" y="47.18" width="3.6" height="1.4" fill="#c88a60" opacity="0.6"/><rect x="47.58" y="47.08" width="0.6" height="1.6" fill="#444"/><ellipse cx="52.44" cy="47.88" rx="1.65" ry="1.12" fill="#fdd28b" transform="rotate(-45 52.44 47.88)"/><ellipse cx="57" cy="47.88" rx="1.71" ry="1.09" fill="#fdc87f" transform="rotate(-45 57 47.88)"/><ellipse cx="61.56" cy="47.88" rx="1.44" ry="1.23" fill="#fdeeb9" transform="rotate(-45 61.56 47.88)"/><ellipse cx="66.12" cy="47.88" rx="1.39" ry="1.25" fill="#fcf1c8" transform="rotate(-45 66.12 47.88)"/><ellipse cx="70.68" cy="47.88" rx="1.72" ry="1.09" fill="#fdc77e" transform="rotate(-45 70.68 47.88)"/><ellipse cx="75.24" cy="47.88" rx="1.41" ry="1.24" fill="#fdefc0" transform="rotate(-45 75.24 47.88)"/><ellipse cx="79.8" cy="47.88" rx="1.54" ry="1.18" fill="#fee49f" transform="rotate(-45 79.8 47.88)"/><ellipse cx="84.36" cy="47.88" rx="1.69" ry="1.11" fill="#fdcd84" transform="rotate(-45 84.36 47.88)"/><ellipse cx="88.92" cy="47.88" rx="1.62" ry="1.14" fill="#fdd790" transform="rotate(-45 88.92 47.88)"/><rect x="0.48" y="51.74" width="3.6" height="1.4" fill="#c8b47c" opacity="0.6"/><rect x="5.04" y="51.74" width="3.6" height="1.4" fill="#b4b8ac" opacity="0.6"/><rect x="9.6" y="51.74" width="3.6" height="1.4" fill="#c88a60" opacity="0.6"/><rect x="14.16" y="51.74" width="3.6" height="1.4" fill="#c88a60" opacity="0.6"/><rect x="18.72" y="51.74" width="3.6" height="1.4" fill="#c88a60" opacity="0.6"/><rect x="23.28" y="51.74" width="3.6" height="1.4" fill="#c88a60" opacity="0.6"/><rect x="27.84" y="51.74" width="3.6" height="1.4" fill="#c8604a" opacity="0.6"/><rect x="32.4" y="51.74" width="3.6" height="1.4" fill="#c88a60" opacity="0.6"/><rect x="36.96" y="51.74" width="3.6" height="1.4" fill="#c8b47c" opacity="0.6"/><rect x="41.52" y="51.74" width="3.6" height="1.4" fill="#c8b47c" opacity="0.6"/><rect x="46.08" y="51.74" width="3.6" height="1.4" fill="#c8b47c" opacity="0.6"/><rect x="52.14" y="51.64" width="0.6" height="1.6" fill="#444"/><ellipse cx="57" cy="52.44" rx="1.3" ry="1.3" fill="#fbf6e3" transform="rotate(-45 57 52.44)"/><ellipse cx="61.56" cy="52.44" rx="1.35" ry="1.28" fill="#fcf3d5" transform="rotate(-45 61.56 52.44)"/><ellipse cx="66.12" cy="52.44" rx="1.6" ry="1.15" fill="#fedb95" transform="rotate(-45 66.12 52.44)"/><ellipse cx="70.68" cy="52.44" rx="1.37" ry="1.27" fill="#fcf2cf" transform="rotate(-45 70.68 52.44)"/><ellipse cx="75.24" cy="52.44" rx="1.65" ry="1.12" fill="#fdd28b" transform="rotate(-45 75.24 52.44)"/><ellipse cx="79.8" cy="52.44" rx="1.39" ry="1.25" fill="#fcf0c7" transform="rotate(-45 79.8 52.44)"/><ellipse cx="84.36" cy="52.44" rx="1.34" ry="1.28" fill="#fcf4d9" transform="rotate(-45 84.36 52.44)"/><ellipse cx="88.92" cy="52.44" rx="1.4" ry="1.25" fill="#fdf0c4" transform="rotate(-45 88.92 52.44)"/><rect x="0.48" y="56.3" width="3.6" height="1.4" fill="#a8b8d0" opacity="0.6"/><rect x="5.04" y="56.3" width="3.6" height="1.4" fill="#b4b8ac" opacity="0.6"/><rect x="9.6" y="56.3" width="3.6" height="1.4" fill="#b4b8ac" opacity="0.6"/><rect x="14.16" y="56.3" width="3.6" height="1.4" fill="#c8604a" opacity="0.6"/><rect x="18.72" y="56.3" width="3.6" height="1.4" fill="#c88a60" opacity="0.6"/><rect x="23.28" y="56.3" width="3.6" height="1.4" fill="#c88a60" opacity="0.6"/><rect x="27.84" y="56.3" width="3.6" height="1.4" fill="#c88a60" opacity="0.6"/><rect x="32.4" y="56.3" width="3.6" height="1.4" fill="#c88a60" opacity="0.6"/><rect x="36.96" y="56.3" width="3.6" height="1.4" fill="#c8b47c" opacity="0.6"/><rect x="41.52" y="56.3" width="3.6" height="1.4" fill="#c88a60" opacity="0.6"/><rect x="46.08" y="56.3" width="3.6" height="1.4" fill="#c8b47c" opacity="0.6"/><rect x="50.64" y="56.3" width="3.6" height="1.4" fill="#b4b8ac" opacity="0.6"/><rect x="56.7" y="56.2" width="0.6" height="1.6" fill="#444"/><ellipse cx="61.56" cy="57" rx="1.76" ry="1.07" fill="#fcbe77" transform="rotate(-45 61.56 57)"/><ellipse cx="66.12" cy="57" rx="1.53" ry="1.19" fill="#fee6a1" transform="rotate(-45 66.12 57)"/><ellipse cx="70.68" cy="57" rx="1.59" ry="1.16" fill="#fedc96" transform="rotate(-45 70.68 57)"/><ellipse cx="75.24" cy="57" rx="1.37" ry="1.27" fill="#fcf2cf" transform="rotate(-45 75.24 57)"/><ellipse cx="79.8" cy="57" rx="1.42" ry="1.24" fill="#cde0e9" transform="rotate(45 79.8 57)"/><ellipse cx="84.36" cy="57" rx="1.43" ry="1.24" fill="#fdeebd" transform="rotate(-45 84.36 57)"/><ellipse cx="88.92" cy="57" rx="1.62" ry="1.14" fill="#fdd891" transform="rotate(-45 88.92 57)"/><rect x="0.48" y="60.86" width="3.6" height="1.4" fill="#c8b47c" opacity="0.6"/><rect x="5.04" y="60.86" width="3.6" height="1.4" fill="#c8b47c" opacity="0.6"/><rect x="9.6" y="60.86" width="3.6" height="1.4" fill="#b4b8ac" opacity="0.6"/><rect x="14.16" y="60.86" width="3.6" height="1.4" fill="#c8b47c" opacity="0.6"/><rect x="18.72" y="60.86" width="3.6" height="1.4" fill="#c8b47c" opacity="0.6"/><rect x="23.28" y="60.86" width="3.6" height="1.4" fill="#c8b47c" opacity="0.6"/><rect x="27.84" y="60.86" width="3.6" height="1.4" fill="#c8b47c" opacity="0.6"/><rect x="32.4" y="60.86" width="3.6" height="1.4" fill="#c8b47c" opacity="0.6"/><rect x="36.96" y="60.86" width="3.6" height="1.4" fill="#c8b47c" opacity="0.6"/><rect x="41.52" y="60.86" width="3.6" height="1.4" fill="#c88a60" opacity="0.6"/><rect x="46.08" y="60.86" width="3.6" height="1.4" fill="#b4b8ac" opacity="0.6"/><rect x="50.64" y="60.86" width="3.6" height="1.4" fill="#b4b8ac" opacity="0.6"/><rect x="55.2" y="60.86" width="3.6" height="1.4" fill="#c88a60" opacity="0.6"/><rect x="61.26" y="60.76" width="0.6" height="1.6" fill="#444"/><ellipse cx="66.12" cy="61.56" rx="2.27" ry="0.82" fill="#e54f32" transform="rotate(-45 66.12 61.56)"/><ellipse cx="70.68" cy="61.56" rx="2.27" ry="0.82" fill="#e44e32" transform="rotate(-45 70.68 61.56)"/><ellipse cx="75.24" cy="61.56" rx="2.11" ry="0.9" fill="#f27143" transform="rotate(-45 75.24 61.56)"/><ellipse cx="79.8" cy="61.56" rx="2.3" ry="0.8" fill="#e2482f" transform="rotate(-45 79.8 61.56)"/><ellipse cx="84.36" cy="61.56" rx="2.14" ry="0.88" fill="#ef693f" transform="rotate(-45 84.36 61.56)"/><ellipse cx="88.92" cy="61.56" rx="2.3" ry="0.8" fill="#e2482f" transform="rotate(-45 88.92 61.56)"/><rect x="0.48" y="65.42" width="3.6" height="1.4" fill="#b4b8ac" opacity="0.6"/><rect x="5.04" y="65.42" width="3.6" height="1.4" fill="#c88a60" opacity="0.6"/><rect x="9.6" y="65.42" width="3.6" height="1.4" fill="#c8b47c" opacity="0.6"/><rect x="14.16" y="65.42" width="3.6" height="1.4" fill="#c8b47c" opacity="0.6"/><rect x="18.72" y="65.42" width="3.6" height="1.4" fill="#c8b47c" opacity="0.6"/><rect x="23.28" y="65.42" width="3.6" height="1.4" fill="#c8b47c" opacity="0.6"/><rect x="27.84" y="65.42" width="3.6" height="1.4" fill="#b4b8ac" opacity="0.6"/><rect x="32.4" y="65.42" width="3.6" height="1.4" fill="#c88a60" opacity="0.6"/><rect x="36.96" y="65.42" width="3.6" height="1.4" fill="#c8b47c" opacity="0.6"/><rect x="41.52" y="65.42" width="3.6" height="1.4" fill="#c88a60" opacity="0.6"/><rect x="46.08" y="65.42" width="3.6" height="1.4" fill="#b4b8ac" opacity="0.6"/><rect x="50.64" y="65.42" width="3.6" height="1.4" fill="#c8b47c" opacity="0.6"/><rect x="55.2" y="65.42" width="3.6" height="1.4" fill="#c8b47c" opacity="0.6"/><rect x="59.76" y="65.42" width="3.6" height="1.4" fill="#c8604a" opacity="0.6"/><rect x="65.82" y="65.32" width="0.6" height="1.6" fill="#444"/><ellipse cx="70.68" cy="66.12" rx="2.3" ry="0.8" fill="#e2482f" transform="rotate(-45 70.68 66.12)"/><ellipse cx="75.24" cy="66.12" rx="2.06" ry="0.92" fill="#f37c49" transform="rotate(-45 75.24 66.12)"/><ellipse cx="79.8" cy="66.12" rx="2.27" ry="0.82" fill="#e54f33" transform="rotate(-45 79.8 66.12)"/><ellipse cx="84.36" cy="66.12" rx="2.3" ry="0.8" fill="#e2482f" transform="rotate(-45 84.36 66.12)"/><ellipse cx="88.92" cy="66.12" rx="2.3" ry="0.8" fill="#e2482f" transform="rotate(-45 88.92 66.12)"/><rect x="0.48" y="69.98" width="3.6" height="1.4" fill="#c8b47c" opacity="0.6"/><rect x="5.04" y="69.98" width="3.6" height="1.4" fill="#c8b47c" opacity="0.6"/><rect x="9.6" y="69.98" width="3.6" height="1.4" fill="#b4b8ac" opacity="0.6"/><rect x="14.16" y="69.98" width="3.6" height="1.4" fill="#c88a60" opacity="0.6"/><rect x="18.72" y="69.98" width="3.6" height="1.4" fill="#b4b8ac" opacity="0.6"/><rect x="23.28" y="69.98" width="3.6" height="1.4" fill="#c88a60" opacity="0.6"/><rect x="27.84" y="69.98" width="3.6" height="1.4" fill="#b4b8ac" opacity="0.6"/><rect x="32.4" y="69.98" width="3.6" height="1.4" fill="#c8b47c" opacity="0.6"/><rect x="36.96" y="69.98" width="3.6" height="1.4" fill="#c8b47c" opacity="0.6"/><rect x="41.52" y="69.98" width="3.6" height="1.4" fill="#b4b8ac" opacity="0.6"/><rect x="46.08" y="69.98" width="3.6" height="1.4" fill="#c8b47c" opacity="0.6"/><rect x="50.64" y="69.98" width="3.6" height="1.4" fill="#b4b8ac" opacity="0.6"/><rect x="55.2" y="69.98" width="3.6" height="1.4" fill="#c8b47c" opacity="0.6"/><rect x="59.76" y="69.98" width="3.6" height="1.4" fill="#c8604a" opacity="0.6"/><rect x="64.32" y="69.98" width="3.6" height="1.4" fill="#c8604a" opacity="0.6"/><rect x="70.38" y="69.88" width="0.6" height="1.6" fill="#444"/><ellipse cx="75.24" cy="70.68" rx="2.26" ry="0.82" fill="#e55033" transform="rotate(-45 75.24 70.68)"/><ellipse cx="79.8" cy="70.68" rx="2.18" ry="0.86" fill="#ec623c" transform="rotate(-45 79.8 70.68)"/><ellipse cx="84.36" cy="70.68" rx="2.15" ry="0.88" fill="#ee683f" transform="rotate(-45 84.36 70.68)"/><ellipse cx="88.92" cy="70.68" rx="2.3" ry="0.8" fill="#e2482f" transform="rotate(-45 88.92 70.68)"/><rect x="0.48" y="74.54" width="3.6" height="1.4" fill="#b4b8ac" opacity="0.6"/><rect x="5.04" y="74.54" width="3.6" height="1.4" fill="#b4b8ac" opacity="0.6"/><rect x="9.6" y="74.54" width="3.6" height="1.4" fill="#a8b8d0" opacity="0.6"/><rect x="14.16" y="74.54" width="3.6" height="1.4" fill="#b4b8ac" opacity="0.6"/><rect x="18.72" y="74.54" width="3.6" height="1.4" fill="#c8b47c" opacity="0.6"/><rect x="23.28" y="74.54" width="3.6" height="1.4" fill="#c88a60" opacity="0.6"/><rect x="27.84" y="74.54" width="3.6" height="1.4" fill="#b4b8ac" opacity="0.6"/><rect x="32.4" y="74.54" width="3.6" height="1.4" fill="#c8b47c" opacity="0.6"/><rect x="36.96" y="74.54" width="3.6" height="1.4" fill="#c88a60" opacity="0.6"/><rect x="41.52" y="74.54" width="3.6" height="1.4" fill="#b4b8ac" opacity="0.6"/><rect x="46.08" y="74.54" width="3.6" height="1.4" fill="#b4b8ac" opacity="0.6"/><rect x="50.64" y="74.54" width="3.6" height="1.4" fill="#c8b47c" opacity="0.6"/><rect x="55.2" y="74.54" width="3.6" height="1.4" fill="#b4b8ac" opacity="0.6"/><rect x="59.76" y="74.54" width="3.6" height="1.4" fill="#c8604a" opacity="0.6"/><rect x="64.32" y="74.54" width="3.6" height="1.4" fill="#c8604a" opacity="0.6"/><rect x="68.88" y="74.54" width="3.6" height="1.4" fill="#c8604a" opacity="0.6"/><rect x="74.94" y="74.44" width="0.6" height="1.6" fill="#444"/><ellipse cx="79.8" cy="75.24" rx="2.15" ry="0.88" fill="#ee683f" transform="rotate(-45 79.8 75.24)"/><ellipse cx="84.36" cy="75.24" rx="2.3" ry="0.8" fill="#e2482f" transform="rotate(-45 84.36 75.24)"/><ellipse cx="88.92" cy="75.24" rx="2.12" ry="0.89" fill="#f16f42" transform="rotate(-45 88.92 75.24)"/><rect x="0.48" y="79.1" width="3.6" height="1.4" fill="#c8b47c" opacity="0.6"/><rect x="5.04" y="79.1" width="3.6" height="1.4" fill="#b4b8ac" opacity="0.6"/><rect x="9.6" y="79.1" width="3.6" height="1.4" fill="#b4b8ac" opacity="0.6"/><rect x="14.16" y="79.1" width="3.6" height="1.4" fill="#c88a60" opacity="0.6"/><rect x="18.72" y="79.1" width="3.6" height="1.4" fill="#c88a60" opacity="0.6"/><rect x="23.28" y="79.1" width="3.6" height="1.4" fill="#c88a60" opacity="0.6"/><rect x="27.84" y="79.1" width="3.6" height="1.4" fill="#c88a60" opacity="0.6"/><rect x="32.4" y="79.1" width="3.6" height="1.4" fill="#b4b8ac" opacity="0.6"/><rect x="36.96" y="79.1" width="3.6" height="1.4" fill="#b4b8ac" opacity="0.6"/><rect x="41.52" y="79.1" width="3.6" height="1.4" fill="#b4b8ac" opacity="0.6"/><rect x="46.08" y="79.1" width="3.6" height="1.4" fill="#c8b47c" opacity="0.6"/><rect x="50.64" y="79.1" width="3.6" height="1.4" fill="#b4b8ac" opacity="0.6"/><rect x="55.2" y="79.1" width="3.6" height="1.4" fill="#a8b8d0" opacity="0.6"/><rect x="59.76" y="79.1" width="3.6" height="1.4" fill="#c8604a" opacity="0.6"/><rect x="64.32" y="79.1" width="3.6" height="1.4" fill="#c8604a" opacity="0.6"/><rect x="68.88" y="79.1" width="3.6" height="1.4" fill="#c8604a" opacity="0.6"/><rect x="73.44" y="79.1" width="3.6" height="1.4" fill="#c8604a" opacity="0.6"/><rect x="79.5" y="79" width="0.6" height="1.6" fill="#444"/><ellipse cx="84.36" cy="79.8" rx="2.3" ry="0.8" fill="#e2492f" transform="rotate(-45 84.36 79.8)"/><ellipse cx="88.92" cy="79.8" rx="2.3" ry="0.8" fill="#e2482f" transform="rotate(-45 88.92 79.8)"/><rect x="0.48" y="83.66" width="3.6" height="1.4" fill="#a8b8d0" opacity="0.6"/><rect x="5.04" y="83.66" width="3.6" height="1.4" fill="#b4b8ac" opacity="0.6"/><rect x="9.6" y="83.66" width="3.6" height="1.4" fill="#b4b8ac" opacity="0.6"/><rect x="14.16" y="83.66" width="3.6" height="1.4" fill="#b4b8ac" opacity="0.6"/><rect x="18.72" y="83.66" width="3.6" height="1.4" fill="#c8b47c" opacity="0.6"/><rect x="23.28" y="83.66" width="3.6" height="1.4" fill="#c8b47c" opacity="0.6"/><rect x="27.84" y="83.66" width="3.6" height="1.4" fill="#b4b8ac" opacity="0.6"/><rect x="32.4" y="83.66" width="3.6" height="1.4" fill="#c8b47c" opacity="0.6"/><rect x="36.96" y="83.66" width="3.6" height="1.4" fill="#c88a60" opacity="0.6"/><rect x="41.52" y="83.66" width="3.6" height="1.4" fill="#a8b8d0" opacity="0.6"/><rect x="46.08" y="83.66" width="3.6" height="1.4" fill="#c8b47c" opacity="0.6"/><rect x="50.64" y="83.66" width="3.6" height="1.4" fill="#b4b8ac" opacity="0.6"/><rect x="55.2" y="83.66" width="3.6" height="1.4" fill="#b4b8ac" opacity="0.6"/><rect x="59.76" y="83.66" width="3.6" height="1.4" fill="#c8604a" opacity="0.6"/><rect x="64.32" y="83.66" width="3.6" height="1.4" fill="#c8604a" opacity="0.6"/><rect x="68.88" y="83.66" width="3.6" height="1.4" fill="#c8604a" opacity="0.6"/><rect x="73.44" y="83.66" width="3.6" height="1.4" fill="#c8604a" opacity="0.6"/><rect x="78" y="83.66" width="3.6" height="1.4" fill="#c8604a" opacity="0.6"/><rect x="84.06" y="83.56" width="0.6" height="1.6" fill="#444"/><ellipse cx="88.92" cy="84.36" rx="2.11" ry="0.89" fill="#f16f43" transform="rotate(-45 88.92 84.36)"/><rect x="0.48" y="88.22" width="3.6" height="1.4" fill="#a8b8d0" opacity="0.6"/><rect x="5.04" y="88.22" width="3.6" height="1.4" fill="#c8b47c" opacity="0.6"/><rect x="9.6" y="88.22" width="3.6" height="1.4" fill="#c88a60" opacity="0.6"/><rect x="14.16" y="88.22" width="3.6" height="1.4" fill="#c8b47c" opacity="0.6"/><rect x="18.72" y="88.22" width="3.6" height="1.4" fill="#b4b8ac" opacity="0.6"/><rect x="23.28" y="88.22" width="3.6" height="1.4" fill="#b4b8ac" opacity="0.6"/><rect x="27.84" y="88.22" width="3.6" height="1.4" fill="#b4b8ac" opacity="0.6"/><rect x="32.4" y="88.22" width="3.6" height="1.4" fill="#c88a60" opacity="0.6"/><rect x="36.96" y="88.22" width="3.6" height="1.4" fill="#c8b47c" opacity="0.6"/><rect x="41.52" y="88.22" width="3.6" height="1.4" fill="#c8b47c" opacity="0.6"/><rect x="46.08" y="88.22" width="3.6" height="1.4" fill="#c8b47c" opacity="0.6"/><rect x="50.64" y="88.22" width="3.6" height="1.4" fill="#b4b8ac" opacity="0.6"/><rect x="55.2" y="88.22" width="3.6" height="1.4" fill="#c8b47c" opacity="0.6"/><rect x="59.76" y="88.22" width="3.6" height="1.4" fill="#c8604a" opacity="0.6"/><rect x="64.32" y="88.22" width="3.6" height="1.4" fill="#c8604a" opacity="0.6"/><rect x="68.88" y="88.22" width="3.6" height="1.4" fill="#c8604a" opacity="0.6"/><rect x="73.44" y="88.22" width="3.6" height="1.4" fill="#c8604a" opacity="0.6"/><rect x="78" y="88.22" width="3.6" height="1.4" fill="#c8604a" opacity="0.6"/><rect x="82.56" y="88.22" width="3.6" height="1.4" fill="#c8604a" opacity="0.6"/><rect x="88.62" y="88.12" width="0.6" height="1.6" fill="#444"/></g>
<g id="ba"><path d="M1.4,-3.3 H6.2 V-6.6 L12.2,0 L6.2,6.6 V3.3 H1.4 Z" fill="#d8d8d8" stroke="#000" stroke-width="2" stroke-linejoin="miter"/></g>
<g id="pt"><path d="M -5.6,5 L -5.8,12.5 C -9,13 -12,13.5 -14.6,15.2 C -17.6,17.4 -18.8,22 -19.2,30 C -19.6,42 -19.6,54 -19.1,62 C -18.8,66.5 -16.8,68.5 -15.2,67.5 L -14.4,67 C -14.3,74 -14.1,81 -13.9,86.5 L 12.4,86.5 C 12.5,81 12.7,74 12.8,67 L 13.6,67.5 C 15.2,68.5 17.2,66.5 17.5,62 C 18,54 18,42 17.6,30 C 17.2,22 16,17.4 13,15.2 C 10.4,13.5 7.5,13 4.6,12.5 L 4.8,5 Z" fill="#f4f4f4" stroke="#e0e0e0" stroke-width="1"/><path d="M -12.6,18 C -13.4,35 -13.6,50 -13.2,65 M 11,18 C 11.8,35 12,50 11.6,65 M -0.8,68 L -0.8,86" fill="none" stroke="#e0e0e0" stroke-width="0.8"/><rect x="-2" y="14" width="3" height="44" fill="#e2e2e2"/><ellipse cx="-7.7" cy="33.7" rx="3.3" ry="2.6" fill="#bdbdbd"/><ellipse cx="5.8" cy="33.7" rx="3.3" ry="2.6" fill="#c4c4c4"/><ellipse cx="-5" cy="40.4" rx="1.5" ry="2.5" fill="#2a2a2a"/><ellipse cx="3.8" cy="40.4" rx="1.5" ry="2.5" fill="#333"/><path d="M -5.9,59 C -4,63 2.2,63 4.1,59 Z" fill="#0a0a0a"/><ellipse cx="0" cy="0" rx="6.6" ry="6.2" fill="#dedede"/><ellipse cx="0" cy="0" rx="5.6" ry="5.1" fill="#595959"/><path d="M -2.2,1.6 L 0,-2 L 2.2,1.6" fill="none" stroke="#bbb" stroke-width="0.7"/></g>
<g id="ps"><path d="M -5.6,5 L -5.8,12.5 C -9,13 -12,13.5 -14.6,15.2 C -17.6,17.4 -18.8,22 -19.2,30 C -19.6,42 -19.6,54 -19.1,62 C -18.8,66.5 -16.8,68.5 -15.2,67.5 L -14.4,67 C -14.3,74 -14.1,81 -13.9,86.5 L 12.4,86.5 C 12.5,81 12.7,74 12.8,67 L 13.6,67.5 C 15.2,68.5 17.2,66.5 17.5,62 C 18,54 18,42 17.6,30 C 17.2,22 16,17.4 13,15.2 C 10.4,13.5 7.5,13 4.6,12.5 L 4.8,5 Z" fill="#f4f4f4" stroke="#e0e0e0" stroke-width="1"/><path d="M -12.6,18 C -13.4,35 -13.6,50 -13.2,65 M 11,18 C 11.8,35 12,50 11.6,65 M -0.8,68 L -0.8,86" fill="none" stroke="#e0e0e0" stroke-width="0.8"/><rect x="-2" y="14" width="3" height="44" fill="#e2e2e2"/><path d="M -7,20 C -7,18 -4,17.6 -1.3,17.8 L -1.3,31.6 C -3,32 -5.5,32 -7,31.2 Z" fill="#fbe4c6"/><path d="M 1.1,17.4 C 4,16.8 7.5,17 8.4,19 L 8.6,30.6 C 6,31.2 3,31 1.1,30.4 Z" fill="#ff10f5"/><path d="M -7.8,19 L -7.8,31" stroke="#9ee8e8" stroke-width="0.8" stroke-dasharray="1.2,0.8"/><rect x="-0.4" y="21" width="1.6" height="5" fill="#8ee88e"/><ellipse cx="3.6" cy="29" rx="1.4" ry="1.3" fill="#1010dd"/><circle cx="-0.5" cy="17" r="0.8" fill="#3030d0"/><path d="M -10.2,34 C -10.2,31.5 -6,30.6 -2.1,31 L -2.1,35 C -2.6,38.5 -4.5,40.6 -6.5,40.6 C -9,40.4 -10.3,37.5 -10.2,35 Z" fill="#c98640"/><path d="M 3.6,33 C 3.6,31.5 7,31.2 9.2,32 L 9.2,37 C 8.6,40 6.5,41.4 5,41.4 C 3.8,40.5 3.6,37 3.6,35 Z" fill="#dcc09a"/><ellipse cx="-4.9" cy="41.8" rx="2.1" ry="4.4" fill="#2f8c5a"/><ellipse cx="4" cy="41.8" rx="2.1" ry="4.4" fill="#159a9a"/><path d="M -5.5,60.2 C -3.6,64.2 2.6,64.2 4.5,60.2 Z" fill="#0a0a0a"/><circle cx="-5.7" cy="75.5" r="0.9" fill="#5858ee"/><ellipse cx="0" cy="0" rx="6.6" ry="6.2" fill="#dedede"/><ellipse cx="0" cy="0" rx="5.6" ry="5.1" fill="#595959"/><path d="M -2.2,1.6 L 0,-2 L 2.2,1.6" fill="none" stroke="#c9a0e0" stroke-width="0.8"/></g>
</defs>
<rect width="1080" height="617" fill="#fff"/>
<rect x="10.2" y="7.6" width="653.7" height="419.9" rx="1.5" fill="none" stroke="#7a7a7a" stroke-width="1.9" stroke-dasharray="6,2.3" stroke-dashoffset="1.3"/>
<rect x="9.4" y="434" width="653.9" height="174.1" rx="1.5" fill="none" stroke="#7a7a7a" stroke-width="1.9" stroke-dasharray="6,2.3"/>
<text x="23.5" y="24.2" font-size="12.4" text-anchor="start" fill="#111" font-weight="bold" textLength="196.5" lengthAdjust="spacingAndGlyphs" stroke="#111" stroke-width="0.3">(A) Normative Reference Network</text>
<text x="18.3" y="450.5" font-size="12.4" text-anchor="start" fill="#111" font-weight="bold" textLength="227.5" lengthAdjust="spacingAndGlyphs" stroke="#111" stroke-width="0.3">(B) Patient-Specific Perturbed Network</text>
<use href="#pb" transform="translate(43,157)"/>
<use href="#pb" transform="translate(64,165.5)"/>
<use href="#pb" transform="translate(85,174)"/>
<use href="#pb" transform="translate(43,174.2)"/>
<use href="#pb" transform="translate(64,182.7)"/>
<use href="#pb" transform="translate(85,191.2)"/>
<use href="#pb" transform="translate(43,191.4)"/>
<use href="#pb" transform="translate(64,199.9)"/>
<use href="#pb" transform="translate(85,208.4)"/>
<text x="63.5" y="300.9" font-size="10.7" text-anchor="middle" fill="#111" font-weight="bold" textLength="79.4" lengthAdjust="spacingAndGlyphs" stroke="#111" stroke-width="0.3">Normoglycemic</text>
<text x="63.7" y="313.6" font-size="10.7" text-anchor="middle" fill="#111" font-weight="bold" textLength="60.6" lengthAdjust="spacingAndGlyphs" stroke="#111" stroke-width="0.3">participants</text>
<text x="119" y="225.6" font-size="8.7" text-anchor="start" fill="#111" font-weight="bold" textLength="59.2" lengthAdjust="spacingAndGlyphs" stroke="#111" stroke-width="0.3">Stratification</text>
<path d="M118.5,233.5 H179" stroke="#000" stroke-width="1.5"/>
<path d="M177.5,229.6 L185.2,233.5 L177.5,237.4 Z" fill="#000"/>
<text x="119" y="248.3" font-size="8.7" text-anchor="start" fill="#111" font-weight="bold" textLength="63.4" lengthAdjust="spacingAndGlyphs" stroke="#111" stroke-width="0.3">Age, Sex, BMI</text>
<use href="#pb" transform="translate(233.4,52)"/>
<use href="#pb" transform="translate(253.8,52)"/>
<use href="#pb" transform="translate(294.7,54)"/>
<text transform="translate(207.24,92) rotate(-90)" x="0" y="0" font-size="9" text-anchor="middle" fill="#111" stroke="#111" stroke-width="0.25" font-weight="bold" textLength="92.7" lengthAdjust="spacingAndGlyphs">20-39, M, Normal weight</text>
<text x="231.9" y="140.6" font-size="6.1" text-anchor="middle" fill="#111" font-weight="bold">1</text>
<text x="255.3" y="140.6" font-size="6.1" text-anchor="middle" fill="#111" font-weight="bold">2</text>
<rect x="272.4" y="138.6" width="5.6" height="0.8" fill="#666"/>
<text x="296.1" y="140.6" font-size="6.1" text-anchor="middle" fill="#111" font-weight="bold">N</text>
<circle cx="270.6" cy="102.4" r="1.15" fill="#111"/>
<circle cx="274.2" cy="102.4" r="1.15" fill="#111"/>
<circle cx="277.8" cy="102.4" r="1.15" fill="#111"/>
<use href="#pb" transform="translate(232.1,158.4)"/>
<use href="#pb" transform="translate(252.3,158.4)"/>
<use href="#pb" transform="translate(293.1,160.3)"/>
<text transform="translate(206.54,196.9) rotate(-90)" x="0" y="0" font-size="9" text-anchor="middle" fill="#111" stroke="#111" stroke-width="0.25" font-weight="bold" textLength="92.3" lengthAdjust="spacingAndGlyphs">20-39, F, Normal weight</text>
<text x="231.9" y="247.4" font-size="6.1" text-anchor="middle" fill="#111" font-weight="bold">1</text>
<text x="255.3" y="247.4" font-size="6.1" text-anchor="middle" fill="#111" font-weight="bold">2</text>
<rect x="272.4" y="245.4" width="5.6" height="0.8" fill="#666"/>
<text x="296.1" y="247.4" font-size="6.1" text-anchor="middle" fill="#111" font-weight="bold">N</text>
<circle cx="270.6" cy="210" r="1.15" fill="#111"/>
<circle cx="274.2" cy="210" r="1.15" fill="#111"/>
<circle cx="277.8" cy="210" r="1.15" fill="#111"/>
<use href="#pb" transform="translate(231.9,285.5)"/>
<use href="#pb" transform="translate(252.3,285.5)"/>
<use href="#pb" transform="translate(295.2,285.9)"/>
<text transform="translate(208.14,323.7) rotate(-90)" x="0" y="0" font-size="9" text-anchor="middle" fill="#111" stroke="#111" stroke-width="0.25" font-weight="bold" textLength="90.6" lengthAdjust="spacingAndGlyphs">60-79, F, Normal weight</text>
<text x="231.9" y="374.6" font-size="6.1" text-anchor="middle" fill="#111" font-weight="bold">1</text>
<text x="255.3" y="374.6" font-size="6.1" text-anchor="middle" fill="#111" font-weight="bold">2</text>
<rect x="272.4" y="372.6" width="5.6" height="0.8" fill="#666"/>
<text x="296.1" y="374.6" font-size="6.1" text-anchor="middle" fill="#111" font-weight="bold">N</text>
<circle cx="270.6" cy="337" r="1.15" fill="#111"/>
<circle cx="274.2" cy="337" r="1.15" fill="#111"/>
<circle cx="277.8" cy="337" r="1.15" fill="#111"/>
<circle cx="260.2" cy="263.7" r="1.7" fill="#111"/>
<circle cx="265.1" cy="263.7" r="1.7" fill="#111"/>
<circle cx="270" cy="263.7" r="1.7" fill="#111"/>
<use href="#sb" transform="translate(364,55.5)"/>
<use href="#sb" transform="translate(380.6,55.5)"/>
<use href="#sb" transform="translate(421.5,56.9)"/>
<text x="363.3" y="144.9" font-size="6.1" text-anchor="middle" fill="#111" font-weight="bold">1</text>
<text x="382.4" y="144.9" font-size="6.1" text-anchor="middle" fill="#111" font-weight="bold">2</text>
<path d="M399.5,143.1 h1 M401.4,143.1 h1 M403.3,143.1 h1" stroke="#777" stroke-width="0.8"/>
<text x="423.1" y="144.9" font-size="6.1" text-anchor="middle" fill="#111" font-weight="bold">N</text>
<circle cx="399" cy="107.8" r="1.15" fill="#111"/>
<circle cx="402.6" cy="107.8" r="1.15" fill="#111"/>
<circle cx="406.2" cy="107.8" r="1.15" fill="#111"/>
<use href="#sb" transform="translate(364,160.5)"/>
<use href="#sb" transform="translate(380.6,160.5)"/>
<use href="#sb" transform="translate(421.3,162)"/>
<text x="363.3" y="249.6" font-size="6.1" text-anchor="middle" fill="#111" font-weight="bold">1</text>
<text x="382.4" y="249.6" font-size="6.1" text-anchor="middle" fill="#111" font-weight="bold">2</text>
<path d="M399.5,247.8 h1 M401.4,247.8 h1 M403.3,247.8 h1" stroke="#777" stroke-width="0.8"/>
<text x="423.1" y="249.6" font-size="6.1" text-anchor="middle" fill="#111" font-weight="bold">N</text>
<circle cx="399" cy="213.9" r="1.15" fill="#111"/>
<circle cx="402.6" cy="213.9" r="1.15" fill="#111"/>
<circle cx="406.2" cy="213.9" r="1.15" fill="#111"/>
<use href="#sb" transform="translate(363.5,285.9)"/>
<use href="#sb" transform="translate(380,285.9)"/>
<use href="#sb" transform="translate(421,287.3)"/>
<text x="363.3" y="375.6" font-size="6.1" text-anchor="middle" fill="#111" font-weight="bold">1</text>
<text x="382.4" y="375.6" font-size="6.1" text-anchor="middle" fill="#111" font-weight="bold">2</text>
<path d="M399.5,373.8 h1 M401.4,373.8 h1 M403.3,373.8 h1" stroke="#777" stroke-width="0.8"/>
<text x="423.1" y="375.6" font-size="6.1" text-anchor="middle" fill="#111" font-weight="bold">N</text>
<circle cx="399" cy="341" r="1.15" fill="#111"/>
<circle cx="402.6" cy="341" r="1.15" fill="#111"/>
<circle cx="406.2" cy="341" r="1.15" fill="#111"/>
<circle cx="389.8" cy="266.2" r="1.7" fill="#111"/>
<circle cx="394.7" cy="266.2" r="1.7" fill="#111"/>
<circle cx="399.6" cy="266.2" r="1.7" fill="#111"/>
<use href="#ba" transform="translate(322.4,232.5)"/>
<use href="#ba" transform="translate(449.6,232.3)"/>
<use href="#ba" transform="translate(533.2,232.3)"/>
<rect x="467.4" y="41.2" width="62.2" height="106.7" fill="#fff" stroke="#cfcfcf" stroke-width="0.9"/>
<use href="#rc" transform="translate(478.5,45.6)"/>
<use href="#rc" transform="translate(487.5,45.6)"/>
<use href="#rc" transform="translate(517.7,45.6)"/>
<text x="474" y="49" font-size="5.2" text-anchor="middle" fill="#111" font-weight="bold">1</text>
<text x="474" y="55.4" font-size="5.2" text-anchor="middle" fill="#111" font-weight="bold">2</text>
<text x="473.8" y="138.8" font-size="5.2" text-anchor="middle" fill="#111" font-weight="bold">M</text>
<text x="482" y="145.6" font-size="5.2" text-anchor="middle" fill="#111" font-weight="bold">1</text>
<text x="491" y="145.6" font-size="5.2" text-anchor="middle" fill="#111" font-weight="bold">2</text>
<text x="521.1" y="145.6" font-size="5.2" text-anchor="middle" fill="#111" font-weight="bold">N</text>
<path d="M503.5,95.6 h1.1 M505.9,95.6 h1.1 M508.3,95.6 h1.1" stroke="#555" stroke-width="0.8"/>
<rect x="467.4" y="150" width="62.2" height="106" fill="#fff" stroke="#cfcfcf" stroke-width="0.9"/>
<use href="#rc" transform="translate(478.5,154.4)"/>
<use href="#rc" transform="translate(487.5,154.4)"/>
<use href="#rc" transform="translate(517.7,154.4)"/>
<text x="474" y="157.8" font-size="5.2" text-anchor="middle" fill="#111" font-weight="bold">1</text>
<text x="474" y="164.2" font-size="5.2" text-anchor="middle" fill="#111" font-weight="bold">2</text>
<text x="473.8" y="247.6" font-size="5.2" text-anchor="middle" fill="#111" font-weight="bold">M</text>
<text x="482" y="253.7" font-size="5.2" text-anchor="middle" fill="#111" font-weight="bold">1</text>
<text x="491" y="253.7" font-size="5.2" text-anchor="middle" fill="#111" font-weight="bold">2</text>
<text x="521.1" y="253.7" font-size="5.2" text-anchor="middle" fill="#111" font-weight="bold">N</text>
<path d="M503.5,204.4 h1.1 M505.9,204.4 h1.1 M508.3,204.4 h1.1" stroke="#555" stroke-width="0.8"/>
<rect x="467.4" y="273.4" width="62.2" height="108.2" fill="#fff" stroke="#cfcfcf" stroke-width="0.9"/>
<use href="#rc" transform="translate(478.5,277.8)"/>
<use href="#rc" transform="translate(487.5,277.8)"/>
<use href="#rc" transform="translate(517.7,277.8)"/>
<text x="474" y="281.2" font-size="5.2" text-anchor="middle" fill="#111" font-weight="bold">1</text>
<text x="474" y="287.6" font-size="5.2" text-anchor="middle" fill="#111" font-weight="bold">2</text>
<text x="473.8" y="371" font-size="5.2" text-anchor="middle" fill="#111" font-weight="bold">M</text>
<text x="482" y="379.3" font-size="5.2" text-anchor="middle" fill="#111" font-weight="bold">1</text>
<text x="491" y="379.3" font-size="5.2" text-anchor="middle" fill="#111" font-weight="bold">2</text>
<text x="521.1" y="379.3" font-size="5.2" text-anchor="middle" fill="#111" font-weight="bold">N</text>
<path d="M503.5,327.8 h1.1 M505.9,327.8 h1.1 M508.3,327.8 h1.1" stroke="#555" stroke-width="0.8"/>
<circle cx="494.9" cy="265" r="1.7" fill="#111"/>
<circle cx="499.8" cy="265" r="1.7" fill="#111"/>
<circle cx="504.7" cy="265" r="1.7" fill="#111"/>
<use href="#cm" transform="translate(560,50.4)"/>
<text transform="translate(558.94,95.5) rotate(-90)" x="0" y="0" font-size="9" text-anchor="middle" fill="#111" stroke="#111" stroke-width="0.25" font-weight="bold" textLength="47.2" lengthAdjust="spacingAndGlyphs">ROIs / ROIs</text>
<text x="608.4" y="150.8" font-size="9" text-anchor="middle" fill="#111" font-weight="bold" textLength="47.3" lengthAdjust="spacingAndGlyphs" stroke="#111" stroke-width="0.3">ROIs / ROIs</text>
<use href="#cm" transform="translate(560.4,163.9)"/>
<text transform="translate(559.34,209) rotate(-90)" x="0" y="0" font-size="9" text-anchor="middle" fill="#111" stroke="#111" stroke-width="0.25" font-weight="bold" textLength="47.2" lengthAdjust="spacingAndGlyphs">ROIs / ROIs</text>
<text x="608.4" y="264.3" font-size="9" text-anchor="middle" fill="#111" font-weight="bold" textLength="47.3" lengthAdjust="spacingAndGlyphs" stroke="#111" stroke-width="0.3">ROIs / ROIs</text>
<use href="#cm" transform="translate(560.7,280.2)"/>
<text transform="translate(559.64,325.3) rotate(-90)" x="0" y="0" font-size="9" text-anchor="middle" fill="#111" stroke="#111" stroke-width="0.25" font-weight="bold" textLength="47.2" lengthAdjust="spacingAndGlyphs">ROIs / ROIs</text>
<text x="608.4" y="380.6" font-size="9" text-anchor="middle" fill="#111" font-weight="bold" textLength="47.3" lengthAdjust="spacingAndGlyphs" stroke="#111" stroke-width="0.3">ROIs / ROIs</text>
<text x="265.9" y="398.4" font-size="10.7" text-anchor="middle" fill="#111" font-weight="bold" stroke="#111" stroke-width="0.3">Subgroup</text>
<text x="265.9" y="411.8" font-size="10.7" text-anchor="middle" fill="#111" font-weight="bold" stroke="#111" stroke-width="0.3">stratification</text>
<text x="398.3" y="398.5" font-size="10.7" text-anchor="middle" fill="#111" font-weight="bold" stroke="#111" stroke-width="0.3">ROIs</text>
<text x="398.3" y="411.9" font-size="10.7" text-anchor="middle" fill="#111" font-weight="bold" textLength="69.7" lengthAdjust="spacingAndGlyphs" stroke="#111" stroke-width="0.3">segmentation</text>
<text x="499" y="398.6" font-size="10.7" text-anchor="middle" fill="#111" stroke="#111" stroke-width="0.3" font-weight="bold">SUL<tspan font-size="7.4" dy="2.3">mean</tspan></text>
<text x="499" y="411.8" font-size="10.7" text-anchor="middle" fill="#111" font-weight="bold" stroke="#111" stroke-width="0.3">extraction</text>
<text x="608.8" y="396.9" font-size="10.7" text-anchor="middle" fill="#111" font-weight="bold" stroke="#111" stroke-width="0.3">Reference</text>
<text x="608.8" y="410.5" font-size="10.7" text-anchor="middle" fill="#111" font-weight="bold" stroke="#111" stroke-width="0.3">correlation matrix</text>
<path d="M317.5,338.5 H327.7 V571 H317.3 M327.7,509.7 H337.8" fill="none" stroke="#333" stroke-width="1.4"/>
<rect x="306.7" y="410.8" width="16.5" height="134.3" fill="#d9d9d9"/>
<text transform="translate(318.66,478) rotate(-90)" x="0" y="0" font-size="9.6" text-anchor="middle" fill="#111" stroke="#111" stroke-width="0.25" font-weight="bold" textLength="107" lengthAdjust="spacingAndGlyphs">Demographic matching</text>
<use href="#pt" transform="translate(251.8,473.4)"/>
<text transform="translate(205.44,507.7) rotate(-90)" x="0" y="0" font-size="9" text-anchor="middle" fill="#111" stroke="#111" stroke-width="0.25" font-weight="bold" textLength="91.3" lengthAdjust="spacingAndGlyphs">20-39, F, Normal weight</text>
<text x="248.5" y="581.2" font-size="10.7" text-anchor="middle" fill="#111" font-weight="bold" stroke="#111" stroke-width="0.3">Pre-diabetic /</text>
<text x="249" y="594.6" font-size="10.7" text-anchor="middle" fill="#111" stroke="#111" stroke-width="0.3" font-weight="bold" textLength="110" lengthAdjust="spacingAndGlyphs">Diabetic Patient (<tspan fill="#d41010" stroke="#d41010">n=1</tspan>)</text>
<use href="#sb" transform="translate(366.0,473.6)"/>
<use href="#sb" transform="translate(382.2,473.6)"/>
<use href="#sb" transform="translate(400.5,473.6)"/>
<use href="#ps" transform="translate(428.1,474.2) scale(1.12,0.96)"/>
<text x="364.8" y="562" font-size="5.6" text-anchor="middle" fill="#111" font-weight="bold">1</text>
<text x="383.5" y="562" font-size="5.6" text-anchor="middle" fill="#111" font-weight="bold">2</text>
<path d="M401.2,560.4 h0.9 M403,560.4 h0.9 M404.8,560.4 h0.9" stroke="#555" stroke-width="0.8"/>
<text x="424.3" y="562" font-size="5.6" text-anchor="middle" fill="#d41010" font-weight="bold">N+1</text>
<text x="399.3" y="578.8" font-size="10.7" text-anchor="middle" fill="#111" font-weight="bold" stroke="#111" stroke-width="0.3">ROIs</text>
<text x="399.3" y="592.2" font-size="10.7" text-anchor="middle" fill="#111" font-weight="bold" textLength="69.7" lengthAdjust="spacingAndGlyphs" stroke="#111" stroke-width="0.3">segmentation</text>
<rect x="469.2" y="459.7" width="61.9" height="108.6" fill="#fff" stroke="#cfcfcf" stroke-width="0.9"/>
<use href="#rc2" transform="translate(481.3,465)"/>
<use href="#rc2" transform="translate(488.5,465)"/>
<use href="#rc2" transform="translate(513.4,465)"/>
<use href="#rc2" transform="translate(521.4,465)"/>
<text x="474.3" y="471.5" font-size="5.2" text-anchor="middle" fill="#111" font-weight="bold">1</text>
<text x="474.3" y="478" font-size="5.2" text-anchor="middle" fill="#111" font-weight="bold">2</text>
<text x="474.3" y="557.5" font-size="5.2" text-anchor="middle" fill="#111" font-weight="bold">M</text>
<text x="484" y="566.2" font-size="5.2" text-anchor="middle" fill="#111" font-weight="bold">1</text>
<text x="491.3" y="566.2" font-size="5.2" text-anchor="middle" fill="#111" font-weight="bold">2</text>
<text x="516.2" y="566.2" font-size="5.2" text-anchor="middle" fill="#111" font-weight="bold">N</text>
<text x="524.4" y="566.2" font-size="5.2" text-anchor="middle" fill="#d41010" font-weight="bold">N+1</text>
<path d="M505,510.5 h3" stroke="#777" stroke-width="0.7"/>
<text x="502" y="579.3" font-size="10.7" text-anchor="middle" fill="#111" font-weight="bold" stroke="#111" stroke-width="0.3">SUL</text>
<text x="502" y="592.2" font-size="10.7" text-anchor="middle" fill="#111" font-weight="bold" stroke="#111" stroke-width="0.3">extraction</text>
<use href="#ba" transform="translate(449.4,527.8)"/>
<use href="#ba" transform="translate(535.2,527.8)"/>
<use href="#cm" transform="translate(561.9,471.0)"/>
<text transform="translate(560.84,515.6) rotate(-90)" x="0" y="0" font-size="9" text-anchor="middle" fill="#111" stroke="#111" stroke-width="0.25" font-weight="bold" textLength="47.2" lengthAdjust="spacingAndGlyphs">ROIs / ROIs</text>
<text x="610.4" y="570.8" font-size="9" text-anchor="middle" fill="#111" font-weight="bold" textLength="47.3" lengthAdjust="spacingAndGlyphs" stroke="#111" stroke-width="0.3">ROIs / ROIs</text>
<text x="609.5" y="584.1" font-size="10.7" text-anchor="middle" fill="#111" font-weight="bold" stroke="#111" stroke-width="0.3">Patient-specific</text>
<text x="609.5" y="597" font-size="10.7" text-anchor="middle" fill="#111" font-weight="bold" stroke="#111" stroke-width="0.3">perturbed matrix</text>
<path d="M671.1,209.7 H687.4 V515.2 H671.1 M687.4,369.4 H703.9" fill="none" stroke="#333" stroke-width="1.4"/>
<text x="782.6" y="264.2" font-size="11.6" text-anchor="middle" fill="#111" font-weight="bold" textLength="113.8" lengthAdjust="spacingAndGlyphs" stroke="#111" stroke-width="0.3">(C) <tspan font-style="italic">&#916;r</tspan> Computation</text>
<text x="787" y="280.2" font-size="11.6" text-anchor="middle" fill="#111" font-weight="bold" textLength="54.6" lengthAdjust="spacingAndGlyphs" stroke="#111" stroke-width="0.3">(Fisher z)</text>
<rect x="727.9" y="297.7" width="138.2" height="147.8" fill="#fff"/>
<circle cx="735.5" cy="300.6" r="1.25" fill="#3ee6e6"/>
<circle cx="740.41" cy="300.6" r="2.2" fill="#ff9410"/>
<circle cx="745.31" cy="300.6" r="1.6" fill="#9ef25a"/>
<circle cx="750.22" cy="300.6" r="2.2" fill="#ff9410"/>
<circle cx="755.12" cy="300.6" r="2.2" fill="#ff9410"/>
<circle cx="760.02" cy="300.6" r="2.2" fill="#ff9410"/>
<circle cx="764.93" cy="300.6" r="2.2" fill="#ff9410"/>
<circle cx="769.83" cy="300.6" r="1.6" fill="#9ef25a"/>
<circle cx="774.74" cy="300.6" r="1.6" fill="#9ef25a"/>
<circle cx="779.64" cy="300.6" r="1.9" fill="#f8e010"/>
<circle cx="784.54" cy="300.6" r="2.2" fill="#ff9410"/>
<circle cx="789.45" cy="300.6" r="2.2" fill="#ff9410"/>
<circle cx="794.35" cy="300.6" r="1.6" fill="#9ef25a"/>
<circle cx="799.26" cy="300.6" r="1.9" fill="#f8e010"/>
<circle cx="804.16" cy="300.6" r="2.2" fill="#ff9410"/>
<circle cx="809.06" cy="300.6" r="1.25" fill="#3ee6e6"/>
<circle cx="813.97" cy="300.6" r="2.2" fill="#ff9410"/>
<circle cx="818.87" cy="300.6" r="2.2" fill="#ff9410"/>
<circle cx="823.78" cy="300.6" r="2.2" fill="#ff9410"/>
<circle cx="828.68" cy="300.6" r="2.2" fill="#ff9410"/>
<circle cx="833.58" cy="300.6" r="2.2" fill="#ff9410"/>
<circle cx="838.49" cy="300.6" r="2.2" fill="#ff9410"/>
<circle cx="843.39" cy="300.6" r="1.9" fill="#f8e010"/>
<circle cx="848.3" cy="300.6" r="1.6" fill="#9ef25a"/>
<circle cx="853.2" cy="300.6" r="2.4" fill="#ff3000"/>
<circle cx="858.1" cy="300.6" r="1.6" fill="#9ef25a"/>
<circle cx="863.01" cy="300.6" r="2.2" fill="#ff9410"/>
<circle cx="730.6" cy="305.83" r="1.25" fill="#3ee6e6"/>
<circle cx="740.41" cy="305.83" r="1.25" fill="#3ee6e6"/>
<circle cx="745.31" cy="305.83" r="1.25" fill="#3ee6e6"/>
<circle cx="750.22" cy="305.83" r="1.25" fill="#3ee6e6"/>
<circle cx="755.12" cy="305.83" r="1.6" fill="#9ef25a"/>
<circle cx="760.02" cy="305.83" r="1.25" fill="#3ee6e6"/>
<circle cx="764.93" cy="305.83" r="1.25" fill="#3ee6e6"/>
<circle cx="769.83" cy="305.83" r="1.6" fill="#9ef25a"/>
<circle cx="774.74" cy="305.83" r="2.4" fill="#ff3000"/>
<circle cx="779.64" cy="305.83" r="1.25" fill="#3ee6e6"/>
<circle cx="784.54" cy="305.83" r="1.6" fill="#9ef25a"/>
<circle cx="789.45" cy="305.83" r="1.25" fill="#3ee6e6"/>
<circle cx="794.35" cy="305.83" r="1.25" fill="#3ee6e6"/>
<circle cx="799.26" cy="305.83" r="1.6" fill="#9ef25a"/>
<circle cx="804.16" cy="305.83" r="1.9" fill="#f8e010"/>
<circle cx="809.06" cy="305.83" r="1.6" fill="#9ef25a"/>
<circle cx="813.97" cy="305.83" r="1.25" fill="#3ee6e6"/>
<circle cx="818.87" cy="305.83" r="1.6" fill="#9ef25a"/>
<circle cx="823.78" cy="305.83" r="1.25" fill="#3ee6e6"/>
<circle cx="828.68" cy="305.83" r="1.1" fill="#3a7cf0"/>
<circle cx="833.58" cy="305.83" r="1.25" fill="#3ee6e6"/>
<circle cx="838.49" cy="305.83" r="1.25" fill="#3ee6e6"/>
<circle cx="843.39" cy="305.83" r="1.6" fill="#9ef25a"/>
<circle cx="848.3" cy="305.83" r="1.9" fill="#f8e010"/>
<circle cx="853.2" cy="305.83" r="1.6" fill="#9ef25a"/>
<circle cx="858.1" cy="305.83" r="1.1" fill="#3a7cf0"/>
<circle cx="863.01" cy="305.83" r="1.25" fill="#3ee6e6"/>
<circle cx="730.6" cy="311.06" r="2.2" fill="#ff9410"/>
<circle cx="735.5" cy="311.06" r="1.25" fill="#3ee6e6"/>
<circle cx="745.31" cy="311.06" r="2.2" fill="#ff9410"/>
<circle cx="750.22" cy="311.06" r="2.2" fill="#ff9410"/>
<circle cx="755.12" cy="311.06" r="2.2" fill="#ff9410"/>
<circle cx="760.02" cy="311.06" r="2.4" fill="#ff3000"/>
<circle cx="764.93" cy="311.06" r="2.4" fill="#ff3000"/>
<circle cx="769.83" cy="311.06" r="1.9" fill="#f8e010"/>
<circle cx="774.74" cy="311.06" r="1.25" fill="#3ee6e6"/>
<circle cx="779.64" cy="311.06" r="2.4" fill="#ff3000"/>
<circle cx="784.54" cy="311.06" r="2.2" fill="#ff9410"/>
<circle cx="789.45" cy="311.06" r="2.4" fill="#ff3000"/>
<circle cx="794.35" cy="311.06" r="1.6" fill="#9ef25a"/>
<circle cx="799.26" cy="311.06" r="1.6" fill="#9ef25a"/>
<circle cx="804.16" cy="311.06" r="1.9" fill="#f8e010"/>
<circle cx="809.06" cy="311.06" r="1.9" fill="#f8e010"/>
<circle cx="813.97" cy="311.06" r="2.2" fill="#ff9410"/>
<circle cx="818.87" cy="311.06" r="2.5" fill="#a00000"/>
<circle cx="823.78" cy="311.06" r="2.4" fill="#ff3000"/>
<circle cx="828.68" cy="311.06" r="2.4" fill="#ff3000"/>
<circle cx="833.58" cy="311.06" r="2.4" fill="#ff3000"/>
<circle cx="838.49" cy="311.06" r="2.4" fill="#ff3000"/>
<circle cx="843.39" cy="311.06" r="2.2" fill="#ff9410"/>
<circle cx="848.3" cy="311.06" r="2.4" fill="#ff3000"/>
<circle cx="853.2" cy="311.06" r="2.5" fill="#a00000"/>
<circle cx="858.1" cy="311.06" r="1.9" fill="#f8e010"/>
<circle cx="863.01" cy="311.06" r="2.2" fill="#ff9410"/>
<circle cx="730.6" cy="316.29" r="1.6" fill="#9ef25a"/>
<circle cx="735.5" cy="316.29" r="1.25" fill="#3ee6e6"/>
<circle cx="740.41" cy="316.29" r="2.2" fill="#ff9410"/>
<circle cx="750.22" cy="316.29" r="2.4" fill="#ff3000"/>
<circle cx="755.12" cy="316.29" r="2.2" fill="#ff9410"/>
<circle cx="760.02" cy="316.29" r="2.4" fill="#ff3000"/>
<circle cx="764.93" cy="316.29" r="2.2" fill="#ff9410"/>
<circle cx="769.83" cy="316.29" r="1.9" fill="#f8e010"/>
<circle cx="774.74" cy="316.29" r="1.25" fill="#3ee6e6"/>
<circle cx="779.64" cy="316.29" r="2.4" fill="#ff3000"/>
<circle cx="784.54" cy="316.29" r="2.2" fill="#ff9410"/>
<circle cx="789.45" cy="316.29" r="2.2" fill="#ff9410"/>
<circle cx="794.35" cy="316.29" r="1.25" fill="#3ee6e6"/>
<circle cx="799.26" cy="316.29" r="1.25" fill="#3ee6e6"/>
<circle cx="804.16" cy="316.29" r="1.9" fill="#f8e010"/>
<circle cx="809.06" cy="316.29" r="2.2" fill="#ff9410"/>
<circle cx="813.97" cy="316.29" r="2.2" fill="#ff9410"/>
<circle cx="818.87" cy="316.29" r="2.4" fill="#ff3000"/>
<circle cx="823.78" cy="316.29" r="2.5" fill="#a00000"/>
<circle cx="828.68" cy="316.29" r="2.4" fill="#ff3000"/>
<circle cx="833.58" cy="316.29" r="2.4" fill="#ff3000"/>
<circle cx="838.49" cy="316.29" r="2.4" fill="#ff3000"/>
<circle cx="843.39" cy="316.29" r="2.2" fill="#ff9410"/>
<circle cx="848.3" cy="316.29" r="2.2" fill="#ff9410"/>
<circle cx="853.2" cy="316.29" r="2.4" fill="#ff3000"/>
<circle cx="858.1" cy="316.29" r="2.2" fill="#ff9410"/>
<circle cx="863.01" cy="316.29" r="2.2" fill="#ff9410"/>
<circle cx="730.6" cy="321.52" r="2.2" fill="#ff9410"/>
<circle cx="735.5" cy="321.52" r="1.25" fill="#3ee6e6"/>
<circle cx="740.41" cy="321.52" r="2.2" fill="#ff9410"/>
<circle cx="745.31" cy="321.52" r="2.4" fill="#ff3000"/>
<circle cx="755.12" cy="321.52" r="2.2" fill="#ff9410"/>
<circle cx="760.02" cy="321.52" r="2.4" fill="#ff3000"/>
<circle cx="764.93" cy="321.52" r="2.2" fill="#ff9410"/>
<circle cx="769.83" cy="321.52" r="1.9" fill="#f8e010"/>
<circle cx="774.74" cy="321.52" r="1.25" fill="#3ee6e6"/>
<circle cx="779.64" cy="321.52" r="2.2" fill="#ff9410"/>
<circle cx="784.54" cy="321.52" r="2.2" fill="#ff9410"/>
<circle cx="789.45" cy="321.52" r="2.4" fill="#ff3000"/>
<circle cx="794.35" cy="321.52" r="1.6" fill="#9ef25a"/>
<circle cx="799.26" cy="321.52" r="1.6" fill="#9ef25a"/>
<circle cx="804.16" cy="321.52" r="1.9" fill="#f8e010"/>
<circle cx="809.06" cy="321.52" r="2.2" fill="#ff9410"/>
<circle cx="813.97" cy="321.52" r="2.2" fill="#ff9410"/>
<circle cx="818.87" cy="321.52" r="2.4" fill="#ff3000"/>
<circle cx="823.78" cy="321.52" r="2.5" fill="#a00000"/>
<circle cx="828.68" cy="321.52" r="2.5" fill="#a00000"/>
<circle cx="833.58" cy="321.52" r="2.4" fill="#ff3000"/>
<circle cx="838.49" cy="321.52" r="2.4" fill="#ff3000"/>
<circle cx="843.39" cy="321.52" r="2.2" fill="#ff9410"/>
<circle cx="848.3" cy="321.52" r="2.2" fill="#ff9410"/>
<circle cx="853.2" cy="321.52" r="2.4" fill="#ff3000"/>
<circle cx="858.1" cy="321.52" r="2.2" fill="#ff9410"/>
<circle cx="863.01" cy="321.52" r="2.4" fill="#ff3000"/>
<circle cx="730.6" cy="326.75" r="2.2" fill="#ff9410"/>
<circle cx="735.5" cy="326.75" r="1.6" fill="#9ef25a"/>
<circle cx="740.41" cy="326.75" r="2.2" fill="#ff9410"/>
<circle cx="745.31" cy="326.75" r="2.2" fill="#ff9410"/>
<circle cx="750.22" cy="326.75" r="2.2" fill="#ff9410"/>
<circle cx="760.02" cy="326.75" r="2.2" fill="#ff9410"/>
<circle cx="764.93" cy="326.75" r="2.2" fill="#ff9410"/>
<circle cx="769.83" cy="326.75" r="1.9" fill="#f8e010"/>
<circle cx="774.74" cy="326.75" r="1.9" fill="#f8e010"/>
<circle cx="779.64" cy="326.75" r="1.6" fill="#9ef25a"/>
<circle cx="784.54" cy="326.75" r="1.9" fill="#f8e010"/>
<circle cx="789.45" cy="326.75" r="2.2" fill="#ff9410"/>
<circle cx="794.35" cy="326.75" r="1.6" fill="#9ef25a"/>
<circle cx="799.26" cy="326.75" r="1.9" fill="#f8e010"/>
<circle cx="804.16" cy="326.75" r="1.25" fill="#3ee6e6"/>
<circle cx="809.06" cy="326.75" r="1.25" fill="#3ee6e6"/>
<circle cx="813.97" cy="326.75" r="1.6" fill="#9ef25a"/>
<circle cx="818.87" cy="326.75" r="2.2" fill="#ff9410"/>
<circle cx="823.78" cy="326.75" r="2.2" fill="#ff9410"/>
<circle cx="828.68" cy="326.75" r="1.9" fill="#f8e010"/>
<circle cx="833.58" cy="326.75" r="2.4" fill="#ff3000"/>
<circle cx="838.49" cy="326.75" r="2.4" fill="#ff3000"/>
<circle cx="843.39" cy="326.75" r="1.25" fill="#3ee6e6"/>
<circle cx="848.3" cy="326.75" r="2.2" fill="#ff9410"/>
<circle cx="853.2" cy="326.75" r="2.2" fill="#ff9410"/>
<circle cx="858.1" cy="326.75" r="1.1" fill="#3a7cf0"/>
<circle cx="863.01" cy="326.75" r="1.6" fill="#9ef25a"/>
<circle cx="730.6" cy="331.98" r="2.2" fill="#ff9410"/>
<circle cx="735.5" cy="331.98" r="1.25" fill="#3ee6e6"/>
<circle cx="740.41" cy="331.98" r="2.4" fill="#ff3000"/>
<circle cx="745.31" cy="331.98" r="2.4" fill="#ff3000"/>
<circle cx="750.22" cy="331.98" r="2.4" fill="#ff3000"/>
<circle cx="755.12" cy="331.98" r="1.9" fill="#f8e010"/>
<circle cx="764.93" cy="331.98" r="2.5" fill="#a00000"/>
<circle cx="769.83" cy="331.98" r="1.6" fill="#9ef25a"/>
<circle cx="774.74" cy="331.98" r="1.25" fill="#3ee6e6"/>
<circle cx="779.64" cy="331.98" r="2.4" fill="#ff3000"/>
<circle cx="784.54" cy="331.98" r="2.2" fill="#ff9410"/>
<circle cx="789.45" cy="331.98" r="2.4" fill="#ff3000"/>
<circle cx="794.35" cy="331.98" r="1.9" fill="#f8e010"/>
<circle cx="799.26" cy="331.98" r="2.2" fill="#ff9410"/>
<circle cx="804.16" cy="331.98" r="1.6" fill="#9ef25a"/>
<circle cx="809.06" cy="331.98" r="1.9" fill="#f8e010"/>
<circle cx="813.97" cy="331.98" r="2.2" fill="#ff9410"/>
<circle cx="818.87" cy="331.98" r="2.4" fill="#ff3000"/>
<circle cx="823.78" cy="331.98" r="2.4" fill="#ff3000"/>
<circle cx="828.68" cy="331.98" r="2.4" fill="#ff3000"/>
<circle cx="833.58" cy="331.98" r="2.4" fill="#ff3000"/>
<circle cx="838.49" cy="331.98" r="2.4" fill="#ff3000"/>
<circle cx="843.39" cy="331.98" r="2.2" fill="#ff9410"/>
<circle cx="848.3" cy="331.98" r="1.9" fill="#f8e010"/>
<circle cx="853.2" cy="331.98" r="2.4" fill="#ff3000"/>
<circle cx="858.1" cy="331.98" r="2.2" fill="#ff9410"/>
<circle cx="863.01" cy="331.98" r="2.4" fill="#ff3000"/>
<circle cx="730.6" cy="337.21" r="2.2" fill="#ff9410"/>
<circle cx="735.5" cy="337.21" r="1.25" fill="#3ee6e6"/>
<circle cx="740.41" cy="337.21" r="2.4" fill="#ff3000"/>
<circle cx="745.31" cy="337.21" r="2.2" fill="#ff9410"/>
<circle cx="750.22" cy="337.21" r="2.2" fill="#ff9410"/>
<circle cx="755.12" cy="337.21" r="2.2" fill="#ff9410"/>
<circle cx="760.02" cy="337.21" r="2.5" fill="#a00000"/>
<circle cx="769.83" cy="337.21" r="1.6" fill="#9ef25a"/>
<circle cx="774.74" cy="337.21" r="1.25" fill="#3ee6e6"/>
<circle cx="779.64" cy="337.21" r="2.4" fill="#ff3000"/>
<circle cx="784.54" cy="337.21" r="2.4" fill="#ff3000"/>
<circle cx="789.45" cy="337.21" r="2.4" fill="#ff3000"/>
<circle cx="794.35" cy="337.21" r="2.2" fill="#ff9410"/>
<circle cx="799.26" cy="337.21" r="2.2" fill="#ff9410"/>
<circle cx="804.16" cy="337.21" r="1.6" fill="#9ef25a"/>
<circle cx="809.06" cy="337.21" r="2.2" fill="#ff9410"/>
<circle cx="813.97" cy="337.21" r="2.2" fill="#ff9410"/>
<circle cx="818.87" cy="337.21" r="2.4" fill="#ff3000"/>
<circle cx="823.78" cy="337.21" r="2.4" fill="#ff3000"/>
<circle cx="828.68" cy="337.21" r="2.4" fill="#ff3000"/>
<circle cx="833.58" cy="337.21" r="2.4" fill="#ff3000"/>
<circle cx="838.49" cy="337.21" r="2.4" fill="#ff3000"/>
<circle cx="843.39" cy="337.21" r="2.2" fill="#ff9410"/>
<circle cx="848.3" cy="337.21" r="2.2" fill="#ff9410"/>
<circle cx="853.2" cy="337.21" r="2.2" fill="#ff9410"/>
<circle cx="858.1" cy="337.21" r="2.2" fill="#ff9410"/>
<circle cx="863.01" cy="337.21" r="2.4" fill="#ff3000"/>
<circle cx="730.6" cy="342.44" r="1.9" fill="#f8e010"/>
<circle cx="735.5" cy="342.44" r="1.6" fill="#9ef25a"/>
<circle cx="740.41" cy="342.44" r="1.9" fill="#f8e010"/>
<circle cx="745.31" cy="342.44" r="1.9" fill="#f8e010"/>
<circle cx="750.22" cy="342.44" r="1.9" fill="#f8e010"/>
<circle cx="755.12" cy="342.44" r="1.9" fill="#f8e010"/>
<circle cx="760.02" cy="342.44" r="1.6" fill="#9ef25a"/>
<circle cx="764.93" cy="342.44" r="1.6" fill="#9ef25a"/>
<circle cx="774.74" cy="342.44" r="2.2" fill="#ff9410"/>
<circle cx="779.64" cy="342.44" r="1.1" fill="#3a7cf0"/>
<circle cx="784.54" cy="342.44" r="1.6" fill="#9ef25a"/>
<circle cx="789.45" cy="342.44" r="1.6" fill="#9ef25a"/>
<circle cx="794.35" cy="342.44" r="1.25" fill="#3ee6e6"/>
<circle cx="799.26" cy="342.44" r="1.25" fill="#3ee6e6"/>
<circle cx="804.16" cy="342.44" r="1.9" fill="#f8e010"/>
<circle cx="809.06" cy="342.44" r="1.25" fill="#3ee6e6"/>
<circle cx="813.97" cy="342.44" r="1.6" fill="#9ef25a"/>
<circle cx="818.87" cy="342.44" r="1.6" fill="#9ef25a"/>
<circle cx="823.78" cy="342.44" r="1.9" fill="#f8e010"/>
<circle cx="828.68" cy="342.44" r="1.6" fill="#9ef25a"/>
<circle cx="833.58" cy="342.44" r="1.9" fill="#f8e010"/>
<circle cx="838.49" cy="342.44" r="1.9" fill="#f8e010"/>
<circle cx="843.39" cy="342.44" r="1.25" fill="#3ee6e6"/>
<circle cx="848.3" cy="342.44" r="2.2" fill="#ff9410"/>
<circle cx="853.2" cy="342.44" r="1.6" fill="#9ef25a"/>
<circle cx="858.1" cy="342.44" r="1.25" fill="#3ee6e6"/>
<circle cx="863.01" cy="342.44" r="1.6" fill="#9ef25a"/>
<circle cx="730.6" cy="347.67" r="1.6" fill="#9ef25a"/>
<circle cx="735.5" cy="347.67" r="2.4" fill="#ff3000"/>
<circle cx="740.41" cy="347.67" r="1.25" fill="#3ee6e6"/>
<circle cx="745.31" cy="347.67" r="1.25" fill="#3ee6e6"/>
<circle cx="750.22" cy="347.67" r="1.25" fill="#3ee6e6"/>
<circle cx="755.12" cy="347.67" r="1.9" fill="#f8e010"/>
<circle cx="760.02" cy="347.67" r="1.6" fill="#9ef25a"/>
<circle cx="764.93" cy="347.67" r="1.6" fill="#9ef25a"/>
<circle cx="769.83" cy="347.67" r="2.2" fill="#ff9410"/>
<circle cx="779.64" cy="347.67" r="1.1" fill="#3a7cf0"/>
<circle cx="784.54" cy="347.67" r="1.6" fill="#9ef25a"/>
<circle cx="789.45" cy="347.67" r="1.6" fill="#9ef25a"/>
<circle cx="794.35" cy="347.67" r="1.25" fill="#3ee6e6"/>
<circle cx="799.26" cy="347.67" r="1.9" fill="#f8e010"/>
<circle cx="804.16" cy="347.67" r="1.9" fill="#f8e010"/>
<circle cx="809.06" cy="347.67" r="1.6" fill="#9ef25a"/>
<circle cx="813.97" cy="347.67" r="1.25" fill="#3ee6e6"/>
<circle cx="818.87" cy="347.67" r="1.6" fill="#9ef25a"/>
<circle cx="823.78" cy="347.67" r="1.25" fill="#3ee6e6"/>
<circle cx="828.68" cy="347.67" r="1.25" fill="#3ee6e6"/>
<circle cx="833.58" cy="347.67" r="1.6" fill="#9ef25a"/>
<circle cx="838.49" cy="347.67" r="1.6" fill="#9ef25a"/>
<circle cx="843.39" cy="347.67" r="1.25" fill="#3ee6e6"/>
<circle cx="848.3" cy="347.67" r="1.9" fill="#f8e010"/>
<circle cx="853.2" cy="347.67" r="1.6" fill="#9ef25a"/>
<circle cx="858.1" cy="347.67" r="1.1" fill="#3a7cf0"/>
<circle cx="863.01" cy="347.67" r="1.25" fill="#3ee6e6"/>
<circle cx="730.6" cy="352.9" r="1.9" fill="#f8e010"/>
<circle cx="735.5" cy="352.9" r="1.25" fill="#3ee6e6"/>
<circle cx="740.41" cy="352.9" r="2.4" fill="#ff3000"/>
<circle cx="745.31" cy="352.9" r="2.4" fill="#ff3000"/>
<circle cx="750.22" cy="352.9" r="2.2" fill="#ff9410"/>
<circle cx="755.12" cy="352.9" r="1.6" fill="#9ef25a"/>
<circle cx="760.02" cy="352.9" r="2.4" fill="#ff3000"/>
<circle cx="764.93" cy="352.9" r="2.4" fill="#ff3000"/>
<circle cx="769.83" cy="352.9" r="1.1" fill="#3a7cf0"/>
<circle cx="774.74" cy="352.9" r="1.1" fill="#3a7cf0"/>
<circle cx="784.54" cy="352.9" r="2.2" fill="#ff9410"/>
<circle cx="789.45" cy="352.9" r="2.2" fill="#ff9410"/>
<circle cx="794.35" cy="352.9" r="1.25" fill="#3ee6e6"/>
<circle cx="799.26" cy="352.9" r="1.9" fill="#f8e010"/>
<circle cx="804.16" cy="352.9" r="1.6" fill="#9ef25a"/>
<circle cx="809.06" cy="352.9" r="2.2" fill="#ff9410"/>
<circle cx="813.97" cy="352.9" r="2.4" fill="#ff3000"/>
<circle cx="818.87" cy="352.9" r="2.4" fill="#ff3000"/>
<circle cx="823.78" cy="352.9" r="2.2" fill="#ff9410"/>
<circle cx="828.68" cy="352.9" r="2.4" fill="#ff3000"/>
<circle cx="833.58" cy="352.9" r="2.2" fill="#ff9410"/>
<circle cx="838.49" cy="352.9" r="2.2" fill="#ff9410"/>
<circle cx="843.39" cy="352.9" r="2.4" fill="#ff3000"/>
<circle cx="848.3" cy="352.9" r="1.9" fill="#f8e010"/>
<circle cx="853.2" cy="352.9" r="2.4" fill="#ff3000"/>
<circle cx="858.1" cy="352.9" r="1.9" fill="#f8e010"/>
<circle cx="863.01" cy="352.9" r="2.2" fill="#ff9410"/>
<circle cx="730.6" cy="358.13" r="2.2" fill="#ff9410"/>
<circle cx="735.5" cy="358.13" r="1.6" fill="#9ef25a"/>
<circle cx="740.41" cy="358.13" r="2.2" fill="#ff9410"/>
<circle cx="745.31" cy="358.13" r="2.2" fill="#ff9410"/>
<circle cx="750.22" cy="358.13" r="2.2" fill="#ff9410"/>
<circle cx="755.12" cy="358.13" r="1.9" fill="#f8e010"/>
<circle cx="760.02" cy="358.13" r="2.2" fill="#ff9410"/>
<circle cx="764.93" cy="358.13" r="2.4" fill="#ff3000"/>
<circle cx="769.83" cy="358.13" r="1.6" fill="#9ef25a"/>
<circle cx="774.74" cy="358.13" r="1.9" fill="#f8e010"/>
<circle cx="779.64" cy="358.13" r="2.2" fill="#ff9410"/>
<circle cx="789.45" cy="358.13" r="2.4" fill="#ff3000"/>
<circle cx="794.35" cy="358.13" r="1.6" fill="#9ef25a"/>
<circle cx="799.26" cy="358.13" r="1.9" fill="#f8e010"/>
<circle cx="804.16" cy="358.13" r="2.4" fill="#ff3000"/>
<circle cx="809.06" cy="358.13" r="2.2" fill="#ff9410"/>
<circle cx="813.97" cy="358.13" r="2.5" fill="#a00000"/>
<circle cx="818.87" cy="358.13" r="2.2" fill="#ff9410"/>
<circle cx="823.78" cy="358.13" r="1.9" fill="#f8e010"/>
<circle cx="828.68" cy="358.13" r="2.2" fill="#ff9410"/>
<circle cx="833.58" cy="358.13" r="2.2" fill="#ff9410"/>
<circle cx="838.49" cy="358.13" r="2.2" fill="#ff9410"/>
<circle cx="843.39" cy="358.13" r="2.5" fill="#a00000"/>
<circle cx="848.3" cy="358.13" r="1.6" fill="#9ef25a"/>
<circle cx="853.2" cy="358.13" r="2.4" fill="#ff3000"/>
<circle cx="858.1" cy="358.13" r="1.25" fill="#3ee6e6"/>
<circle cx="863.01" cy="358.13" r="2.4" fill="#ff3000"/>
<circle cx="730.6" cy="363.36" r="2.2" fill="#ff9410"/>
<circle cx="735.5" cy="363.36" r="1.25" fill="#3ee6e6"/>
<circle cx="740.41" cy="363.36" r="2.4" fill="#ff3000"/>
<circle cx="745.31" cy="363.36" r="2.4" fill="#ff3000"/>
<circle cx="750.22" cy="363.36" r="2.4" fill="#ff3000"/>
<circle cx="755.12" cy="363.36" r="1.6" fill="#9ef25a"/>
<circle cx="760.02" cy="363.36" r="2.4" fill="#ff3000"/>
<circle cx="764.93" cy="363.36" r="2.4" fill="#ff3000"/>
<circle cx="769.83" cy="363.36" r="1.6" fill="#9ef25a"/>
<circle cx="774.74" cy="363.36" r="1.6" fill="#9ef25a"/>
<circle cx="779.64" cy="363.36" r="2.2" fill="#ff9410"/>
<circle cx="784.54" cy="363.36" r="2.4" fill="#ff3000"/>
<circle cx="794.35" cy="363.36" r="1.25" fill="#3ee6e6"/>
<circle cx="799.26" cy="363.36" r="1.25" fill="#3ee6e6"/>
<circle cx="804.16" cy="363.36" r="2.2" fill="#ff9410"/>
<circle cx="809.06" cy="363.36" r="2.2" fill="#ff9410"/>
<circle cx="813.97" cy="363.36" r="2.4" fill="#ff3000"/>
<circle cx="818.87" cy="363.36" r="2.4" fill="#ff3000"/>
<circle cx="823.78" cy="363.36" r="2.2" fill="#ff9410"/>
<circle cx="828.68" cy="363.36" r="2.4" fill="#ff3000"/>
<circle cx="833.58" cy="363.36" r="2.2" fill="#ff9410"/>
<circle cx="838.49" cy="363.36" r="2.2" fill="#ff9410"/>
<circle cx="843.39" cy="363.36" r="2.4" fill="#ff3000"/>
<circle cx="848.3" cy="363.36" r="1.6" fill="#9ef25a"/>
<circle cx="853.2" cy="363.36" r="2.4" fill="#ff3000"/>
<circle cx="858.1" cy="363.36" r="2.2" fill="#ff9410"/>
<circle cx="863.01" cy="363.36" r="2.5" fill="#a00000"/>
<circle cx="730.6" cy="368.59" r="1.6" fill="#9ef25a"/>
<circle cx="735.5" cy="368.59" r="1.6" fill="#9ef25a"/>
<circle cx="740.41" cy="368.59" r="1.25" fill="#3ee6e6"/>
<circle cx="745.31" cy="368.59" r="1.6" fill="#9ef25a"/>
<circle cx="750.22" cy="368.59" r="1.25" fill="#3ee6e6"/>
<circle cx="755.12" cy="368.59" r="1.9" fill="#f8e010"/>
<circle cx="760.02" cy="368.59" r="1.6" fill="#9ef25a"/>
<circle cx="764.93" cy="368.59" r="2.2" fill="#ff9410"/>
<circle cx="769.83" cy="368.59" r="1.25" fill="#3ee6e6"/>
<circle cx="774.74" cy="368.59" r="1.25" fill="#3ee6e6"/>
<circle cx="779.64" cy="368.59" r="1.25" fill="#3ee6e6"/>
<circle cx="784.54" cy="368.59" r="1.25" fill="#3ee6e6"/>
<circle cx="789.45" cy="368.59" r="1.6" fill="#9ef25a"/>
<circle cx="799.26" cy="368.59" r="2.4" fill="#ff3000"/>
<circle cx="804.16" cy="368.59" r="1.25" fill="#3ee6e6"/>
<circle cx="809.06" cy="368.59" r="1.25" fill="#3ee6e6"/>
<circle cx="813.97" cy="368.59" r="1.1" fill="#3a7cf0"/>
<circle cx="818.87" cy="368.59" r="1.6" fill="#9ef25a"/>
<circle cx="823.78" cy="368.59" r="1.6" fill="#9ef25a"/>
<circle cx="828.68" cy="368.59" r="1.25" fill="#3ee6e6"/>
<circle cx="833.58" cy="368.59" r="1.6" fill="#9ef25a"/>
<circle cx="838.49" cy="368.59" r="1.6" fill="#9ef25a"/>
<circle cx="843.39" cy="368.59" r="1.6" fill="#9ef25a"/>
<circle cx="848.3" cy="368.59" r="1.6" fill="#9ef25a"/>
<circle cx="853.2" cy="368.59" r="1.25" fill="#3ee6e6"/>
<circle cx="858.1" cy="368.59" r="1.6" fill="#9ef25a"/>
<circle cx="863.01" cy="368.59" r="1.25" fill="#3ee6e6"/>
<circle cx="730.6" cy="373.82" r="2.2" fill="#ff9410"/>
<circle cx="735.5" cy="373.82" r="1.6" fill="#9ef25a"/>
<circle cx="740.41" cy="373.82" r="1.6" fill="#9ef25a"/>
<circle cx="745.31" cy="373.82" r="1.25" fill="#3ee6e6"/>
<circle cx="750.22" cy="373.82" r="1.6" fill="#9ef25a"/>
<circle cx="755.12" cy="373.82" r="1.6" fill="#9ef25a"/>
<circle cx="760.02" cy="373.82" r="2.2" fill="#ff9410"/>
<circle cx="764.93" cy="373.82" r="2.2" fill="#ff9410"/>
<circle cx="769.83" cy="373.82" r="1.25" fill="#3ee6e6"/>
<circle cx="774.74" cy="373.82" r="1.9" fill="#f8e010"/>
<circle cx="779.64" cy="373.82" r="1.6" fill="#9ef25a"/>
<circle cx="784.54" cy="373.82" r="1.9" fill="#f8e010"/>
<circle cx="789.45" cy="373.82" r="1.6" fill="#9ef25a"/>
<circle cx="794.35" cy="373.82" r="2.4" fill="#ff3000"/>
<circle cx="804.16" cy="373.82" r="1.25" fill="#3ee6e6"/>
<circle cx="809.06" cy="373.82" r="1.25" fill="#3ee6e6"/>
<circle cx="813.97" cy="373.82" r="1.25" fill="#3ee6e6"/>
<circle cx="818.87" cy="373.82" r="1.6" fill="#9ef25a"/>
<circle cx="823.78" cy="373.82" r="1.6" fill="#9ef25a"/>
<circle cx="828.68" cy="373.82" r="1.6" fill="#9ef25a"/>
<circle cx="833.58" cy="373.82" r="1.9" fill="#f8e010"/>
<circle cx="838.49" cy="373.82" r="1.9" fill="#f8e010"/>
<circle cx="843.39" cy="373.82" r="1.9" fill="#f8e010"/>
<circle cx="848.3" cy="373.82" r="1.6" fill="#9ef25a"/>
<circle cx="853.2" cy="373.82" r="1.6" fill="#9ef25a"/>
<circle cx="858.1" cy="373.82" r="1.25" fill="#3ee6e6"/>
<circle cx="863.01" cy="373.82" r="1.6" fill="#9ef25a"/>
<circle cx="730.6" cy="379.05" r="2.2" fill="#ff9410"/>
<circle cx="735.5" cy="379.05" r="1.9" fill="#f8e010"/>
<circle cx="740.41" cy="379.05" r="1.9" fill="#f8e010"/>
<circle cx="745.31" cy="379.05" r="1.9" fill="#f8e010"/>
<circle cx="750.22" cy="379.05" r="1.9" fill="#f8e010"/>
<circle cx="755.12" cy="379.05" r="1.6" fill="#9ef25a"/>
<circle cx="760.02" cy="379.05" r="1.6" fill="#9ef25a"/>
<circle cx="764.93" cy="379.05" r="1.9" fill="#f8e010"/>
<circle cx="769.83" cy="379.05" r="1.9" fill="#f8e010"/>
<circle cx="774.74" cy="379.05" r="1.9" fill="#f8e010"/>
<circle cx="779.64" cy="379.05" r="1.6" fill="#9ef25a"/>
<circle cx="784.54" cy="379.05" r="2.4" fill="#ff3000"/>
<circle cx="789.45" cy="379.05" r="2.2" fill="#ff9410"/>
<circle cx="794.35" cy="379.05" r="1.25" fill="#3ee6e6"/>
<circle cx="799.26" cy="379.05" r="1.25" fill="#3ee6e6"/>
<circle cx="809.06" cy="379.05" r="1.9" fill="#f8e010"/>
<circle cx="813.97" cy="379.05" r="2.2" fill="#ff9410"/>
<circle cx="818.87" cy="379.05" r="1.9" fill="#f8e010"/>
<circle cx="823.78" cy="379.05" r="1.9" fill="#f8e010"/>
<circle cx="828.68" cy="379.05" r="1.9" fill="#f8e010"/>
<circle cx="833.58" cy="379.05" r="1.9" fill="#f8e010"/>
<circle cx="838.49" cy="379.05" r="1.6" fill="#9ef25a"/>
<circle cx="843.39" cy="379.05" r="2.2" fill="#ff9410"/>
<circle cx="848.3" cy="379.05" r="1.25" fill="#3ee6e6"/>
<circle cx="853.2" cy="379.05" r="1.9" fill="#f8e010"/>
<circle cx="858.1" cy="379.05" r="1.6" fill="#9ef25a"/>
<circle cx="863.01" cy="379.05" r="2.2" fill="#ff9410"/>
<circle cx="730.6" cy="384.28" r="1.25" fill="#3ee6e6"/>
<circle cx="735.5" cy="384.28" r="1.6" fill="#9ef25a"/>
<circle cx="740.41" cy="384.28" r="1.9" fill="#f8e010"/>
<circle cx="745.31" cy="384.28" r="2.2" fill="#ff9410"/>
<circle cx="750.22" cy="384.28" r="2.2" fill="#ff9410"/>
<circle cx="755.12" cy="384.28" r="1.25" fill="#3ee6e6"/>
<circle cx="760.02" cy="384.28" r="1.9" fill="#f8e010"/>
<circle cx="764.93" cy="384.28" r="2.2" fill="#ff9410"/>
<circle cx="769.83" cy="384.28" r="1.25" fill="#3ee6e6"/>
<circle cx="774.74" cy="384.28" r="1.6" fill="#9ef25a"/>
<circle cx="779.64" cy="384.28" r="2.2" fill="#ff9410"/>
<circle cx="784.54" cy="384.28" r="2.2" fill="#ff9410"/>
<circle cx="789.45" cy="384.28" r="2.2" fill="#ff9410"/>
<circle cx="794.35" cy="384.28" r="1.25" fill="#3ee6e6"/>
<circle cx="799.26" cy="384.28" r="1.25" fill="#3ee6e6"/>
<circle cx="804.16" cy="384.28" r="1.9" fill="#f8e010"/>
<circle cx="813.97" cy="384.28" r="2.2" fill="#ff9410"/>
<circle cx="818.87" cy="384.28" r="2.2" fill="#ff9410"/>
<circle cx="823.78" cy="384.28" r="2.2" fill="#ff9410"/>
<circle cx="828.68" cy="384.28" r="2.2" fill="#ff9410"/>
<circle cx="833.58" cy="384.28" r="1.9" fill="#f8e010"/>
<circle cx="838.49" cy="384.28" r="1.6" fill="#9ef25a"/>
<circle cx="843.39" cy="384.28" r="2.2" fill="#ff9410"/>
<circle cx="848.3" cy="384.28" r="1.25" fill="#3ee6e6"/>
<circle cx="853.2" cy="384.28" r="2.2" fill="#ff9410"/>
<circle cx="858.1" cy="384.28" r="1.6" fill="#9ef25a"/>
<circle cx="863.01" cy="384.28" r="2.2" fill="#ff9410"/>
<circle cx="730.6" cy="389.51" r="2.2" fill="#ff9410"/>
<circle cx="735.5" cy="389.51" r="1.6" fill="#9ef25a"/>
<circle cx="740.41" cy="389.51" r="2.2" fill="#ff9410"/>
<circle cx="745.31" cy="389.51" r="2.4" fill="#ff3000"/>
<circle cx="750.22" cy="389.51" r="2.4" fill="#ff3000"/>
<circle cx="755.12" cy="389.51" r="1.6" fill="#9ef25a"/>
<circle cx="760.02" cy="389.51" r="2.2" fill="#ff9410"/>
<circle cx="764.93" cy="389.51" r="2.2" fill="#ff9410"/>
<circle cx="769.83" cy="389.51" r="1.6" fill="#9ef25a"/>
<circle cx="774.74" cy="389.51" r="1.25" fill="#3ee6e6"/>
<circle cx="779.64" cy="389.51" r="2.4" fill="#ff3000"/>
<circle cx="784.54" cy="389.51" r="2.5" fill="#a00000"/>
<circle cx="789.45" cy="389.51" r="2.4" fill="#ff3000"/>
<circle cx="794.35" cy="389.51" r="1.1" fill="#3a7cf0"/>
<circle cx="799.26" cy="389.51" r="1.25" fill="#3ee6e6"/>
<circle cx="804.16" cy="389.51" r="2.2" fill="#ff9410"/>
<circle cx="809.06" cy="389.51" r="2.2" fill="#ff9410"/>
<circle cx="818.87" cy="389.51" r="2.2" fill="#ff9410"/>
<circle cx="823.78" cy="389.51" r="2.2" fill="#ff9410"/>
<circle cx="828.68" cy="389.51" r="2.4" fill="#ff3000"/>
<circle cx="833.58" cy="389.51" r="2.2" fill="#ff9410"/>
<circle cx="838.49" cy="389.51" r="2.2" fill="#ff9410"/>
<circle cx="843.39" cy="389.51" r="2.4" fill="#ff3000"/>
<circle cx="848.3" cy="389.51" r="1.6" fill="#9ef25a"/>
<circle cx="853.2" cy="389.51" r="2.4" fill="#ff3000"/>
<circle cx="858.1" cy="389.51" r="2.2" fill="#ff9410"/>
<circle cx="863.01" cy="389.51" r="2.4" fill="#ff3000"/>
<circle cx="730.6" cy="394.74" r="2.2" fill="#ff9410"/>
<circle cx="735.5" cy="394.74" r="1.25" fill="#3ee6e6"/>
<circle cx="740.41" cy="394.74" r="2.5" fill="#a00000"/>
<circle cx="745.31" cy="394.74" r="2.4" fill="#ff3000"/>
<circle cx="750.22" cy="394.74" r="2.4" fill="#ff3000"/>
<circle cx="755.12" cy="394.74" r="2.2" fill="#ff9410"/>
<circle cx="760.02" cy="394.74" r="2.4" fill="#ff3000"/>
<circle cx="764.93" cy="394.74" r="2.4" fill="#ff3000"/>
<circle cx="769.83" cy="394.74" r="1.9" fill="#f8e010"/>
<circle cx="774.74" cy="394.74" r="1.6" fill="#9ef25a"/>
<circle cx="779.64" cy="394.74" r="2.4" fill="#ff3000"/>
<circle cx="784.54" cy="394.74" r="2.2" fill="#ff9410"/>
<circle cx="789.45" cy="394.74" r="2.4" fill="#ff3000"/>
<circle cx="794.35" cy="394.74" r="1.6" fill="#9ef25a"/>
<circle cx="799.26" cy="394.74" r="1.6" fill="#9ef25a"/>
<circle cx="804.16" cy="394.74" r="2.2" fill="#ff9410"/>
<circle cx="809.06" cy="394.74" r="1.9" fill="#f8e010"/>
<circle cx="813.97" cy="394.74" r="2.2" fill="#ff9410"/>
<circle cx="823.78" cy="394.74" r="2.4" fill="#ff3000"/>
<circle cx="828.68" cy="394.74" r="2.4" fill="#ff3000"/>
<circle cx="833.58" cy="394.74" r="2.5" fill="#a00000"/>
<circle cx="838.49" cy="394.74" r="2.4" fill="#ff3000"/>
<circle cx="843.39" cy="394.74" r="2.2" fill="#ff9410"/>
<circle cx="848.3" cy="394.74" r="2.4" fill="#ff3000"/>
<circle cx="853.2" cy="394.74" r="2.5" fill="#a00000"/>
<circle cx="858.1" cy="394.74" r="1.9" fill="#f8e010"/>
<circle cx="863.01" cy="394.74" r="2.2" fill="#ff9410"/>
<circle cx="730.6" cy="399.97" r="2.2" fill="#ff9410"/>
<circle cx="735.5" cy="399.97" r="1.25" fill="#3ee6e6"/>
<circle cx="740.41" cy="399.97" r="2.4" fill="#ff3000"/>
<circle cx="745.31" cy="399.97" r="2.5" fill="#a00000"/>
<circle cx="750.22" cy="399.97" r="2.5" fill="#a00000"/>
<circle cx="755.12" cy="399.97" r="2.2" fill="#ff9410"/>
<circle cx="760.02" cy="399.97" r="2.4" fill="#ff3000"/>
<circle cx="764.93" cy="399.97" r="2.4" fill="#ff3000"/>
<circle cx="769.83" cy="399.97" r="1.9" fill="#f8e010"/>
<circle cx="774.74" cy="399.97" r="1.25" fill="#3ee6e6"/>
<circle cx="779.64" cy="399.97" r="2.2" fill="#ff9410"/>
<circle cx="784.54" cy="399.97" r="1.9" fill="#f8e010"/>
<circle cx="789.45" cy="399.97" r="2.4" fill="#ff3000"/>
<circle cx="794.35" cy="399.97" r="1.6" fill="#9ef25a"/>
<circle cx="799.26" cy="399.97" r="1.6" fill="#9ef25a"/>
<circle cx="804.16" cy="399.97" r="1.9" fill="#f8e010"/>
<circle cx="809.06" cy="399.97" r="2.2" fill="#ff9410"/>
<circle cx="813.97" cy="399.97" r="2.2" fill="#ff9410"/>
<circle cx="818.87" cy="399.97" r="2.4" fill="#ff3000"/>
<circle cx="828.68" cy="399.97" r="2.5" fill="#a00000"/>
<circle cx="833.58" cy="399.97" r="2.5" fill="#a00000"/>
<circle cx="838.49" cy="399.97" r="2.4" fill="#ff3000"/>
<circle cx="843.39" cy="399.97" r="1.9" fill="#f8e010"/>
<circle cx="848.3" cy="399.97" r="2.2" fill="#ff9410"/>
<circle cx="853.2" cy="399.97" r="2.4" fill="#ff3000"/>
<circle cx="858.1" cy="399.97" r="2.2" fill="#ff9410"/>
<circle cx="863.01" cy="399.97" r="2.2" fill="#ff9410"/>
<circle cx="730.6" cy="405.2" r="2.2" fill="#ff9410"/>
<circle cx="735.5" cy="405.2" r="1.1" fill="#3a7cf0"/>
<circle cx="740.41" cy="405.2" r="2.4" fill="#ff3000"/>
<circle cx="745.31" cy="405.2" r="2.4" fill="#ff3000"/>
<circle cx="750.22" cy="405.2" r="2.5" fill="#a00000"/>
<circle cx="755.12" cy="405.2" r="1.9" fill="#f8e010"/>
<circle cx="760.02" cy="405.2" r="2.4" fill="#ff3000"/>
<circle cx="764.93" cy="405.2" r="2.4" fill="#ff3000"/>
<circle cx="769.83" cy="405.2" r="1.6" fill="#9ef25a"/>
<circle cx="774.74" cy="405.2" r="1.25" fill="#3ee6e6"/>
<circle cx="779.64" cy="405.2" r="2.4" fill="#ff3000"/>
<circle cx="784.54" cy="405.2" r="2.2" fill="#ff9410"/>
<circle cx="789.45" cy="405.2" r="2.4" fill="#ff3000"/>
<circle cx="794.35" cy="405.2" r="1.25" fill="#3ee6e6"/>
<circle cx="799.26" cy="405.2" r="1.6" fill="#9ef25a"/>
<circle cx="804.16" cy="405.2" r="1.9" fill="#f8e010"/>
<circle cx="809.06" cy="405.2" r="2.2" fill="#ff9410"/>
<circle cx="813.97" cy="405.2" r="2.2" fill="#ff9410"/>
<circle cx="818.87" cy="405.2" r="2.4" fill="#ff3000"/>
<circle cx="823.78" cy="405.2" r="2.5" fill="#a00000"/>
<circle cx="833.58" cy="405.2" r="2.4" fill="#ff3000"/>
<circle cx="838.49" cy="405.2" r="2.4" fill="#ff3000"/>
<circle cx="843.39" cy="405.2" r="2.2" fill="#ff9410"/>
<circle cx="848.3" cy="405.2" r="2.2" fill="#ff9410"/>
<circle cx="853.2" cy="405.2" r="2.4" fill="#ff3000"/>
<circle cx="858.1" cy="405.2" r="2.4" fill="#ff3000"/>
<circle cx="863.01" cy="405.2" r="2.4" fill="#ff3000"/>
<circle cx="730.6" cy="410.43" r="2.2" fill="#ff9410"/>
<circle cx="735.5" cy="410.43" r="1.25" fill="#3ee6e6"/>
<circle cx="740.41" cy="410.43" r="2.5" fill="#a00000"/>
<circle cx="745.31" cy="410.43" r="2.4" fill="#ff3000"/>
<circle cx="750.22" cy="410.43" r="2.4" fill="#ff3000"/>
<circle cx="755.12" cy="410.43" r="2.4" fill="#ff3000"/>
<circle cx="760.02" cy="410.43" r="2.4" fill="#ff3000"/>
<circle cx="764.93" cy="410.43" r="2.4" fill="#ff3000"/>
<circle cx="769.83" cy="410.43" r="1.9" fill="#f8e010"/>
<circle cx="774.74" cy="410.43" r="1.6" fill="#9ef25a"/>
<circle cx="779.64" cy="410.43" r="2.2" fill="#ff9410"/>
<circle cx="784.54" cy="410.43" r="2.2" fill="#ff9410"/>
<circle cx="789.45" cy="410.43" r="2.2" fill="#ff9410"/>
<circle cx="794.35" cy="410.43" r="1.6" fill="#9ef25a"/>
<circle cx="799.26" cy="410.43" r="1.9" fill="#f8e010"/>
<circle cx="804.16" cy="410.43" r="1.6" fill="#9ef25a"/>
<circle cx="809.06" cy="410.43" r="1.9" fill="#f8e010"/>
<circle cx="813.97" cy="410.43" r="2.2" fill="#ff9410"/>
<circle cx="818.87" cy="410.43" r="2.5" fill="#a00000"/>
<circle cx="823.78" cy="410.43" r="2.5" fill="#a00000"/>
<circle cx="828.68" cy="410.43" r="2.4" fill="#ff3000"/>
<circle cx="838.49" cy="410.43" r="2.5" fill="#a00000"/>
<circle cx="843.39" cy="410.43" r="1.9" fill="#f8e010"/>
<circle cx="848.3" cy="410.43" r="2.4" fill="#ff3000"/>
<circle cx="853.2" cy="410.43" r="2.4" fill="#ff3000"/>
<circle cx="858.1" cy="410.43" r="1.9" fill="#f8e010"/>
<circle cx="863.01" cy="410.43" r="2.2" fill="#ff9410"/>
<circle cx="730.6" cy="415.66" r="2.2" fill="#ff9410"/>
<circle cx="735.5" cy="415.66" r="1.25" fill="#3ee6e6"/>
<circle cx="740.41" cy="415.66" r="2.4" fill="#ff3000"/>
<circle cx="745.31" cy="415.66" r="2.4" fill="#ff3000"/>
<circle cx="750.22" cy="415.66" r="2.4" fill="#ff3000"/>
<circle cx="755.12" cy="415.66" r="2.4" fill="#ff3000"/>
<circle cx="760.02" cy="415.66" r="2.4" fill="#ff3000"/>
<circle cx="764.93" cy="415.66" r="2.4" fill="#ff3000"/>
<circle cx="769.83" cy="415.66" r="1.9" fill="#f8e010"/>
<circle cx="774.74" cy="415.66" r="1.6" fill="#9ef25a"/>
<circle cx="779.64" cy="415.66" r="2.2" fill="#ff9410"/>
<circle cx="784.54" cy="415.66" r="1.9" fill="#f8e010"/>
<circle cx="789.45" cy="415.66" r="2.2" fill="#ff9410"/>
<circle cx="794.35" cy="415.66" r="1.6" fill="#9ef25a"/>
<circle cx="799.26" cy="415.66" r="1.9" fill="#f8e010"/>
<circle cx="804.16" cy="415.66" r="1.9" fill="#f8e010"/>
<circle cx="809.06" cy="415.66" r="1.6" fill="#9ef25a"/>
<circle cx="813.97" cy="415.66" r="2.2" fill="#ff9410"/>
<circle cx="818.87" cy="415.66" r="2.5" fill="#a00000"/>
<circle cx="823.78" cy="415.66" r="2.5" fill="#a00000"/>
<circle cx="828.68" cy="415.66" r="2.4" fill="#ff3000"/>
<circle cx="833.58" cy="415.66" r="2.5" fill="#a00000"/>
<circle cx="843.39" cy="415.66" r="1.9" fill="#f8e010"/>
<circle cx="848.3" cy="415.66" r="2.4" fill="#ff3000"/>
<circle cx="853.2" cy="415.66" r="2.4" fill="#ff3000"/>
<circle cx="858.1" cy="415.66" r="1.9" fill="#f8e010"/>
<circle cx="863.01" cy="415.66" r="2.2" fill="#ff9410"/>
<circle cx="730.6" cy="420.89" r="1.9" fill="#f8e010"/>
<circle cx="735.5" cy="420.89" r="1.6" fill="#9ef25a"/>
<circle cx="740.41" cy="420.89" r="2.2" fill="#ff9410"/>
<circle cx="745.31" cy="420.89" r="2.2" fill="#ff9410"/>
<circle cx="750.22" cy="420.89" r="2.2" fill="#ff9410"/>
<circle cx="755.12" cy="420.89" r="1.25" fill="#3ee6e6"/>
<circle cx="760.02" cy="420.89" r="2.2" fill="#ff9410"/>
<circle cx="764.93" cy="420.89" r="2.2" fill="#ff9410"/>
<circle cx="769.83" cy="420.89" r="1.25" fill="#3ee6e6"/>
<circle cx="774.74" cy="420.89" r="1.6" fill="#9ef25a"/>
<circle cx="779.64" cy="420.89" r="2.4" fill="#ff3000"/>
<circle cx="784.54" cy="420.89" r="2.5" fill="#a00000"/>
<circle cx="789.45" cy="420.89" r="2.4" fill="#ff3000"/>
<circle cx="794.35" cy="420.89" r="1.6" fill="#9ef25a"/>
<circle cx="799.26" cy="420.89" r="1.9" fill="#f8e010"/>
<circle cx="804.16" cy="420.89" r="2.2" fill="#ff9410"/>
<circle cx="809.06" cy="420.89" r="2.2" fill="#ff9410"/>
<circle cx="813.97" cy="420.89" r="2.4" fill="#ff3000"/>
<circle cx="818.87" cy="420.89" r="2.2" fill="#ff9410"/>
<circle cx="823.78" cy="420.89" r="1.9" fill="#f8e010"/>
<circle cx="828.68" cy="420.89" r="2.2" fill="#ff9410"/>
<circle cx="833.58" cy="420.89" r="1.9" fill="#f8e010"/>
<circle cx="838.49" cy="420.89" r="1.9" fill="#f8e010"/>
<circle cx="848.3" cy="420.89" r="1.6" fill="#9ef25a"/>
<circle cx="853.2" cy="420.89" r="2.2" fill="#ff9410"/>
<circle cx="858.1" cy="420.89" r="1.6" fill="#9ef25a"/>
<circle cx="863.01" cy="420.89" r="2.4" fill="#ff3000"/>
<circle cx="730.6" cy="426.12" r="1.6" fill="#9ef25a"/>
<circle cx="735.5" cy="426.12" r="1.9" fill="#f8e010"/>
<circle cx="740.41" cy="426.12" r="2.4" fill="#ff3000"/>
<circle cx="745.31" cy="426.12" r="2.4" fill="#ff3000"/>
<circle cx="750.22" cy="426.12" r="2.2" fill="#ff9410"/>
<circle cx="755.12" cy="426.12" r="2.2" fill="#ff9410"/>
<circle cx="760.02" cy="426.12" r="1.9" fill="#f8e010"/>
<circle cx="764.93" cy="426.12" r="2.2" fill="#ff9410"/>
<circle cx="769.83" cy="426.12" r="2.2" fill="#ff9410"/>
<circle cx="774.74" cy="426.12" r="1.6" fill="#9ef25a"/>
<circle cx="779.64" cy="426.12" r="1.9" fill="#f8e010"/>
<circle cx="784.54" cy="426.12" r="1.6" fill="#9ef25a"/>
<circle cx="789.45" cy="426.12" r="2.2" fill="#ff9410"/>
<circle cx="794.35" cy="426.12" r="1.6" fill="#9ef25a"/>
<circle cx="799.26" cy="426.12" r="1.6" fill="#9ef25a"/>
<circle cx="804.16" cy="426.12" r="1.25" fill="#3ee6e6"/>
<circle cx="809.06" cy="426.12" r="1.25" fill="#3ee6e6"/>
<circle cx="813.97" cy="426.12" r="1.6" fill="#9ef25a"/>
<circle cx="818.87" cy="426.12" r="2.4" fill="#ff3000"/>
<circle cx="823.78" cy="426.12" r="2.2" fill="#ff9410"/>
<circle cx="828.68" cy="426.12" r="2.2" fill="#ff9410"/>
<circle cx="833.58" cy="426.12" r="2.4" fill="#ff3000"/>
<circle cx="838.49" cy="426.12" r="2.4" fill="#ff3000"/>
<circle cx="843.39" cy="426.12" r="1.6" fill="#9ef25a"/>
<circle cx="853.2" cy="426.12" r="2.4" fill="#ff3000"/>
<circle cx="858.1" cy="426.12" r="1.25" fill="#3ee6e6"/>
<circle cx="863.01" cy="426.12" r="1.6" fill="#9ef25a"/>
<circle cx="730.6" cy="431.35" r="2.4" fill="#ff3000"/>
<circle cx="735.5" cy="431.35" r="1.6" fill="#9ef25a"/>
<circle cx="740.41" cy="431.35" r="2.5" fill="#a00000"/>
<circle cx="745.31" cy="431.35" r="2.4" fill="#ff3000"/>
<circle cx="750.22" cy="431.35" r="2.4" fill="#ff3000"/>
<circle cx="755.12" cy="431.35" r="2.2" fill="#ff9410"/>
<circle cx="760.02" cy="431.35" r="2.4" fill="#ff3000"/>
<circle cx="764.93" cy="431.35" r="2.4" fill="#ff3000"/>
<circle cx="769.83" cy="431.35" r="1.6" fill="#9ef25a"/>
<circle cx="774.74" cy="431.35" r="1.6" fill="#9ef25a"/>
<circle cx="779.64" cy="431.35" r="2.4" fill="#ff3000"/>
<circle cx="784.54" cy="431.35" r="2.4" fill="#ff3000"/>
<circle cx="789.45" cy="431.35" r="2.4" fill="#ff3000"/>
<circle cx="794.35" cy="431.35" r="1.6" fill="#9ef25a"/>
<circle cx="799.26" cy="431.35" r="1.6" fill="#9ef25a"/>
<circle cx="804.16" cy="431.35" r="2.2" fill="#ff9410"/>
<circle cx="809.06" cy="431.35" r="2.2" fill="#ff9410"/>
<circle cx="813.97" cy="431.35" r="2.4" fill="#ff3000"/>
<circle cx="818.87" cy="431.35" r="2.5" fill="#a00000"/>
<circle cx="823.78" cy="431.35" r="2.4" fill="#ff3000"/>
<circle cx="828.68" cy="431.35" r="2.4" fill="#ff3000"/>
<circle cx="833.58" cy="431.35" r="2.4" fill="#ff3000"/>
<circle cx="838.49" cy="431.35" r="2.4" fill="#ff3000"/>
<circle cx="843.39" cy="431.35" r="2.2" fill="#ff9410"/>
<circle cx="848.3" cy="431.35" r="2.2" fill="#ff9410"/>
<circle cx="858.1" cy="431.35" r="1.9" fill="#f8e010"/>
<circle cx="863.01" cy="431.35" r="2.4" fill="#ff3000"/>
<circle cx="730.6" cy="436.58" r="1.9" fill="#f8e010"/>
<circle cx="735.5" cy="436.58" r="1.1" fill="#3a7cf0"/>
<circle cx="740.41" cy="436.58" r="1.9" fill="#f8e010"/>
<circle cx="745.31" cy="436.58" r="2.2" fill="#ff9410"/>
<circle cx="750.22" cy="436.58" r="2.4" fill="#ff3000"/>
<circle cx="755.12" cy="436.58" r="1.25" fill="#3ee6e6"/>
<circle cx="760.02" cy="436.58" r="2.2" fill="#ff9410"/>
<circle cx="764.93" cy="436.58" r="2.2" fill="#ff9410"/>
<circle cx="769.83" cy="436.58" r="1.25" fill="#3ee6e6"/>
<circle cx="774.74" cy="436.58" r="1.1" fill="#3a7cf0"/>
<circle cx="779.64" cy="436.58" r="2.2" fill="#ff9410"/>
<circle cx="784.54" cy="436.58" r="1.6" fill="#9ef25a"/>
<circle cx="789.45" cy="436.58" r="2.2" fill="#ff9410"/>
<circle cx="794.35" cy="436.58" r="1.25" fill="#3ee6e6"/>
<circle cx="799.26" cy="436.58" r="1.25" fill="#3ee6e6"/>
<circle cx="804.16" cy="436.58" r="1.6" fill="#9ef25a"/>
<circle cx="809.06" cy="436.58" r="1.9" fill="#f8e010"/>
<circle cx="813.97" cy="436.58" r="2.2" fill="#ff9410"/>
<circle cx="818.87" cy="436.58" r="1.9" fill="#f8e010"/>
<circle cx="823.78" cy="436.58" r="2.2" fill="#ff9410"/>
<circle cx="828.68" cy="436.58" r="2.4" fill="#ff3000"/>
<circle cx="833.58" cy="436.58" r="1.9" fill="#f8e010"/>
<circle cx="838.49" cy="436.58" r="1.6" fill="#9ef25a"/>
<circle cx="843.39" cy="436.58" r="1.6" fill="#9ef25a"/>
<circle cx="848.3" cy="436.58" r="1.25" fill="#3ee6e6"/>
<circle cx="853.2" cy="436.58" r="1.9" fill="#f8e010"/>
<circle cx="863.01" cy="436.58" r="2.2" fill="#ff9410"/>
<circle cx="730.6" cy="441.81" r="2.2" fill="#ff9410"/>
<circle cx="735.5" cy="441.81" r="1.25" fill="#3ee6e6"/>
<circle cx="740.41" cy="441.81" r="2.2" fill="#ff9410"/>
<circle cx="745.31" cy="441.81" r="2.2" fill="#ff9410"/>
<circle cx="750.22" cy="441.81" r="2.4" fill="#ff3000"/>
<circle cx="755.12" cy="441.81" r="1.6" fill="#9ef25a"/>
<circle cx="760.02" cy="441.81" r="2.4" fill="#ff3000"/>
<circle cx="764.93" cy="441.81" r="2.4" fill="#ff3000"/>
<circle cx="769.83" cy="441.81" r="1.6" fill="#9ef25a"/>
<circle cx="774.74" cy="441.81" r="1.25" fill="#3ee6e6"/>
<circle cx="779.64" cy="441.81" r="2.2" fill="#ff9410"/>
<circle cx="784.54" cy="441.81" r="2.4" fill="#ff3000"/>
<circle cx="789.45" cy="441.81" r="2.5" fill="#a00000"/>
<circle cx="794.35" cy="441.81" r="1.25" fill="#3ee6e6"/>
<circle cx="799.26" cy="441.81" r="1.6" fill="#9ef25a"/>
<circle cx="804.16" cy="441.81" r="2.2" fill="#ff9410"/>
<circle cx="809.06" cy="441.81" r="2.2" fill="#ff9410"/>
<circle cx="813.97" cy="441.81" r="2.4" fill="#ff3000"/>
<circle cx="818.87" cy="441.81" r="2.2" fill="#ff9410"/>
<circle cx="823.78" cy="441.81" r="2.2" fill="#ff9410"/>
<circle cx="828.68" cy="441.81" r="2.4" fill="#ff3000"/>
<circle cx="833.58" cy="441.81" r="2.2" fill="#ff9410"/>
<circle cx="838.49" cy="441.81" r="2.2" fill="#ff9410"/>
<circle cx="843.39" cy="441.81" r="2.4" fill="#ff3000"/>
<circle cx="848.3" cy="441.81" r="1.6" fill="#9ef25a"/>
<circle cx="853.2" cy="441.81" r="2.4" fill="#ff3000"/>
<circle cx="858.1" cy="441.81" r="2.2" fill="#ff9410"/>
<rect x="727.9" y="297.7" width="138.2" height="147.8" fill="none" stroke="#444" stroke-width="1.1"/>
<defs><linearGradient id="jet" x1="0" y1="0" x2="0" y2="1"><stop offset="0" stop-color="#800000"/><stop offset="0.12" stop-color="#ff0000"/><stop offset="0.3" stop-color="#ff9900"/><stop offset="0.4" stop-color="#ffff00"/><stop offset="0.52" stop-color="#80ff80"/><stop offset="0.62" stop-color="#00ffff"/><stop offset="0.8" stop-color="#0080ff"/><stop offset="0.92" stop-color="#0000ff"/><stop offset="1" stop-color="#000080"/></linearGradient></defs>
<rect x="866.8" y="298" width="3.9" height="146.6" fill="url(#jet)"/>
<rect x="871" y="312.8" width="2" height="0.6" fill="#aaa"/><rect x="873.6" y="312.6" width="2.4" height="1" fill="#ccc"/>
<rect x="871" y="327.6" width="2" height="0.6" fill="#aaa"/><rect x="873.6" y="327.4" width="2.4" height="1" fill="#ccc"/>
<rect x="871" y="342.4" width="2" height="0.6" fill="#aaa"/><rect x="873.6" y="342.2" width="2.4" height="1" fill="#ccc"/>
<rect x="871" y="357.2" width="2" height="0.6" fill="#aaa"/><rect x="873.6" y="357" width="2.4" height="1" fill="#ccc"/>
<rect x="871" y="372" width="2" height="0.6" fill="#aaa"/><rect x="873.6" y="371.8" width="2.4" height="1" fill="#ccc"/>
<rect x="871" y="386.8" width="2" height="0.6" fill="#aaa"/><rect x="873.6" y="386.6" width="2.4" height="1" fill="#ccc"/>
<rect x="871" y="401.6" width="2" height="0.6" fill="#aaa"/><rect x="873.6" y="401.4" width="2.4" height="1" fill="#ccc"/>
<rect x="871" y="416.4" width="2" height="0.6" fill="#aaa"/><rect x="873.6" y="416.2" width="2.4" height="1" fill="#ccc"/>
<rect x="871" y="431.2" width="2" height="0.6" fill="#aaa"/><rect x="873.6" y="431" width="2.4" height="1" fill="#ccc"/>
<text x="725.8" y="301.6" font-size="2.9" text-anchor="end" fill="#555">AdrenalGlandL</text>
<text x="725.8" y="306.83" font-size="2.9" text-anchor="end" fill="#555">Aorta</text>
<text x="725.8" y="312.06" font-size="2.9" text-anchor="end" fill="#555">BoneMarrow</text>
<text x="725.8" y="317.29" font-size="2.9" text-anchor="end" fill="#555">ClavicleL</text>
<text x="725.8" y="322.52" font-size="2.9" text-anchor="end" fill="#555">ClavicleR</text>
<text x="725.8" y="327.75" font-size="2.9" text-anchor="end" fill="#555">Esophagus</text>
<text x="725.8" y="332.98" font-size="2.9" text-anchor="end" fill="#555">FemurHeadL</text>
<text x="725.8" y="338.21" font-size="2.9" text-anchor="end" fill="#555">FemurHeadR</text>
<text x="725.8" y="343.44" font-size="2.9" text-anchor="end" fill="#555">GlandThyroid</text>
<text x="725.8" y="348.67" font-size="2.9" text-anchor="end" fill="#555">Heart</text>
<text x="725.8" y="353.9" font-size="2.9" text-anchor="end" fill="#555">HumerusHeadR</text>
<text x="725.8" y="359.13" font-size="2.9" text-anchor="end" fill="#555">KidneyR</text>
<text x="725.8" y="364.36" font-size="2.9" text-anchor="end" fill="#555">Liver</text>
<text x="725.8" y="369.59" font-size="2.9" text-anchor="end" fill="#555">LungL</text>
<text x="725.8" y="374.82" font-size="2.9" text-anchor="end" fill="#555">LungR</text>
<text x="725.8" y="380.05" font-size="2.9" text-anchor="end" fill="#555">Pancreas</text>
<text x="725.8" y="385.28" font-size="2.9" text-anchor="end" fill="#555">Prostate</text>
<text x="725.8" y="390.51" font-size="2.9" text-anchor="end" fill="#555">Rectum</text>
<text x="725.8" y="395.74" font-size="2.9" text-anchor="end" fill="#555">Rib</text>
<text x="725.8" y="400.97" font-size="2.9" text-anchor="end" fill="#555">ScapulaL</text>
<text x="725.8" y="406.2" font-size="2.9" text-anchor="end" fill="#555">ScapulaR</text>
<text x="725.8" y="411.43" font-size="2.9" text-anchor="end" fill="#555">SpinalCord</text>
<text x="725.8" y="416.66" font-size="2.9" text-anchor="end" fill="#555">SpinalCord</text>
<text x="725.8" y="421.89" font-size="2.9" text-anchor="end" fill="#555">Spleen</text>
<text x="725.8" y="427.12" font-size="2.9" text-anchor="end" fill="#555">Sternum</text>
<text x="725.8" y="432.35" font-size="2.9" text-anchor="end" fill="#555">Vb</text>
<text x="725.8" y="437.58" font-size="2.9" text-anchor="end" fill="#555">VO-Muscle</text>
<text x="725.8" y="442.81" font-size="2.9" text-anchor="end" fill="#555">VO-Fat</text>
<text transform="translate(731.6,447.8) rotate(-90)" font-size="2.9" text-anchor="end" fill="#666">AdrenalGlandL</text>
<text transform="translate(736.5,447.8) rotate(-90)" font-size="2.9" text-anchor="end" fill="#666">Aorta</text>
<text transform="translate(741.41,447.8) rotate(-90)" font-size="2.9" text-anchor="end" fill="#666">BoneMarrow</text>
<text transform="translate(746.31,447.8) rotate(-90)" font-size="2.9" text-anchor="end" fill="#666">ClavicleL</text>
<text transform="translate(751.22,447.8) rotate(-90)" font-size="2.9" text-anchor="end" fill="#666">ClavicleR</text>
<text transform="translate(756.12,447.8) rotate(-90)" font-size="2.9" text-anchor="end" fill="#666">Esophagus</text>
<text transform="translate(761.02,447.8) rotate(-90)" font-size="2.9" text-anchor="end" fill="#666">FemurHeadL</text>
<text transform="translate(765.93,447.8) rotate(-90)" font-size="2.9" text-anchor="end" fill="#666">FemurHeadR</text>
<text transform="translate(770.83,447.8) rotate(-90)" font-size="2.9" text-anchor="end" fill="#666">GlandThyroid</text>
<text transform="translate(775.74,447.8) rotate(-90)" font-size="2.9" text-anchor="end" fill="#666">Heart</text>
<text transform="translate(780.64,447.8) rotate(-90)" font-size="2.9" text-anchor="end" fill="#666">HumerusHeadR</text>
<text transform="translate(785.54,447.8) rotate(-90)" font-size="2.9" text-anchor="end" fill="#666">KidneyR</text>
<text transform="translate(790.45,447.8) rotate(-90)" font-size="2.9" text-anchor="end" fill="#666">Liver</text>
<text transform="translate(795.35,447.8) rotate(-90)" font-size="2.9" text-anchor="end" fill="#666">LungL</text>
<text transform="translate(800.26,447.8) rotate(-90)" font-size="2.9" text-anchor="end" fill="#666">LungR</text>
<text transform="translate(805.16,447.8) rotate(-90)" font-size="2.9" text-anchor="end" fill="#666">Pancreas</text>
<text transform="translate(810.06,447.8) rotate(-90)" font-size="2.9" text-anchor="end" fill="#666">Prostate</text>
<text transform="translate(814.97,447.8) rotate(-90)" font-size="2.9" text-anchor="end" fill="#666">Rectum</text>
<text transform="translate(819.87,447.8) rotate(-90)" font-size="2.9" text-anchor="end" fill="#666">Rib</text>
<text transform="translate(824.78,447.8) rotate(-90)" font-size="2.9" text-anchor="end" fill="#666">ScapulaL</text>
<text transform="translate(829.68,447.8) rotate(-90)" font-size="2.9" text-anchor="end" fill="#666">ScapulaR</text>
<text transform="translate(834.58,447.8) rotate(-90)" font-size="2.9" text-anchor="end" fill="#666">SpinalCord</text>
<text transform="translate(839.49,447.8) rotate(-90)" font-size="2.9" text-anchor="end" fill="#666">SpinalCord</text>
<text transform="translate(844.39,447.8) rotate(-90)" font-size="2.9" text-anchor="end" fill="#666">Spleen</text>
<text transform="translate(849.3,447.8) rotate(-90)" font-size="2.9" text-anchor="end" fill="#666">Sternum</text>
<text transform="translate(854.2,447.8) rotate(-90)" font-size="2.9" text-anchor="end" fill="#666">Vb</text>
<text transform="translate(859.1,447.8) rotate(-90)" font-size="2.9" text-anchor="end" fill="#666">VO-Muscle</text>
<text transform="translate(864.01,447.8) rotate(-90)" font-size="2.9" text-anchor="end" fill="#666">VO-Fat</text>
<text x="800.6" y="482.1" font-size="10.8" text-anchor="middle" fill="#111" stroke="#111" stroke-width="0.3" font-weight="bold" textLength="96.6" lengthAdjust="spacingAndGlyphs"><tspan font-style="italic">&#916;r</tspan> deviation matrix</text>
<use href="#ba" transform="translate(884.0,375.4)"/>
<text x="908.1" y="262.8" font-size="11.6" text-anchor="start" fill="#111" font-weight="bold" textLength="149.1" lengthAdjust="spacingAndGlyphs" stroke="#111" stroke-width="0.3">(D) Network Visualization</text>
<text x="986.5" y="483" font-size="10.6" text-anchor="middle" fill="#111" font-weight="bold" textLength="164.5" lengthAdjust="spacingAndGlyphs" stroke="#111" stroke-width="0.3">Individulized deviation network</text>
<path d="M952.26,321.69 Q983,364 966.84,413.74" fill="none" stroke="#6ea0d4" stroke-width="0.7" stroke-linecap="round"/>
<path d="M966.84,314.26 Q965,346 940.69,333.26" fill="none" stroke="#4a86c8" stroke-width="0.9" stroke-linecap="round"/>
<path d="M930.7,364 Q962,368 966.84,413.74" fill="none" stroke="#6ea0d4" stroke-width="0.7" stroke-linecap="round"/>
<path d="M940.69,394.74 Q990,362 1035.3,364" fill="none" stroke="#6ea0d4" stroke-width="0.7" stroke-linecap="round"/>
<path d="M1032.74,380.16 Q996,384 1013.74,406.31" fill="none" stroke="#6ea0d4" stroke-width="0.7" stroke-linecap="round"/>
<path d="M1025.31,394.74 Q1010,389 1013.74,406.31" fill="none" stroke="#6ea0d4" stroke-width="0.7" stroke-linecap="round"/>
<path d="M933.26,347.84 Q952,341 940.69,333.26" fill="none" stroke="#d05050" stroke-width="0.7" stroke-linecap="round"/>
<path d="M999.16,314.26 Q985,355 930.7,364" fill="none" stroke="#d04040" stroke-width="0.8" stroke-linecap="round"/>
<path d="M940.69,333.26 Q967.6,357.2 1013.74,321.69" fill="none" stroke="#b8222c" stroke-width="3.3" stroke-linecap="round"/>
<path d="M933.26,347.84 Q966.1,369 940.69,394.74" fill="none" stroke="#b8222c" stroke-width="3.3" stroke-linecap="round"/>
<path d="M930.7,364 Q981,361.3 1032.74,380.16" fill="none" stroke="#3b78b8" stroke-width="3.3" stroke-linecap="round"/>
<circle cx="1035.3" cy="364" r="1.3" fill="#fff" stroke="#9fb8d0" stroke-width="0.5"/>
<text transform="translate(1039.8,364) rotate(0)" font-size="5.4" text-anchor="start" dy="1.9" fill="#111">Kidney L</text>
<circle cx="1032.74" cy="347.84" r="1.3" fill="#fff" stroke="#9fb8d0" stroke-width="0.5"/>
<text transform="translate(1037.02,346.45) rotate(-18)" font-size="5.4" text-anchor="start" dy="1.9" fill="#111">Kidney R</text>
<circle cx="1025.31" cy="333.26" r="1.3" fill="#fff" stroke="#9fb8d0" stroke-width="0.5"/>
<text transform="translate(1028.95,330.61) rotate(-36)" font-size="5.4" text-anchor="start" dy="1.9" fill="#111">Lung L</text>
<circle cx="1013.74" cy="321.69" r="1.3" fill="#fff" stroke="#9fb8d0" stroke-width="0.5"/>
<text transform="translate(1016.39,318.05) rotate(-54)" font-size="5.4" text-anchor="start" dy="1.9" fill="#111">Lung R</text>
<circle cx="999.16" cy="314.26" r="1.3" fill="#fff" stroke="#9fb8d0" stroke-width="0.5"/>
<text transform="translate(1000.55,309.98) rotate(-72)" font-size="5.4" text-anchor="start" dy="1.9" fill="#111">Pancreas</text>
<circle cx="983" cy="311.7" r="1.3" fill="#fff" stroke="#9fb8d0" stroke-width="0.5"/>
<text transform="translate(983,307.2) rotate(-90)" font-size="5.4" text-anchor="start" dy="1.9" fill="#111">Small Bowel</text>
<circle cx="966.84" cy="314.26" r="1.3" fill="#fff" stroke="#9fb8d0" stroke-width="0.5"/>
<text transform="translate(965.45,309.98) rotate(72)" font-size="5.4" text-anchor="end" dy="1.9" fill="#111">Colon</text>
<circle cx="952.26" cy="321.69" r="1.3" fill="#fff" stroke="#9fb8d0" stroke-width="0.5"/>
<text transform="translate(949.61,318.05) rotate(54)" font-size="5.4" text-anchor="end" dy="1.9" fill="#111">Spleen</text>
<circle cx="940.69" cy="333.26" r="1.3" fill="#fff" stroke="#9fb8d0" stroke-width="0.5"/>
<text transform="translate(937.05,330.61) rotate(36)" font-size="5.4" text-anchor="end" dy="1.9" fill="#111">Subcutaneous Fat</text>
<circle cx="933.26" cy="347.84" r="1.3" fill="#fff" stroke="#9fb8d0" stroke-width="0.5"/>
<text transform="translate(928.98,346.45) rotate(18)" font-size="5.4" text-anchor="end" dy="1.9" fill="#111">Visceral Fat</text>
<circle cx="930.7" cy="364" r="1.3" fill="#fff" stroke="#9fb8d0" stroke-width="0.5"/>
<text transform="translate(926.2,364) rotate(0)" font-size="5.4" text-anchor="end" dy="1.9" fill="#111">Liver</text>
<circle cx="933.26" cy="380.16" r="1.3" fill="#fff" stroke="#9fb8d0" stroke-width="0.5"/>
<text transform="translate(928.98,381.55) rotate(-18)" font-size="5.4" text-anchor="end" dy="1.9" fill="#111">Adrenal L</text>
<circle cx="940.69" cy="394.74" r="1.3" fill="#fff" stroke="#9fb8d0" stroke-width="0.5"/>
<text transform="translate(937.05,397.39) rotate(-36)" font-size="5.4" text-anchor="end" dy="1.9" fill="#111">Adrenal R</text>
<circle cx="952.26" cy="406.31" r="1.3" fill="#fff" stroke="#9fb8d0" stroke-width="0.5"/>
<text transform="translate(949.61,409.95) rotate(-54)" font-size="5.4" text-anchor="end" dy="1.9" fill="#111">Thyroid</text>
<circle cx="966.84" cy="413.74" r="1.3" fill="#fff" stroke="#9fb8d0" stroke-width="0.5"/>
<text transform="translate(965.45,418.02) rotate(-72)" font-size="5.4" text-anchor="end" dy="1.9" fill="#111">Brain</text>
<circle cx="983" cy="416.3" r="1.3" fill="#fff" stroke="#9fb8d0" stroke-width="0.5"/>
<text transform="translate(983,420.8) rotate(-270)" font-size="5.4" text-anchor="start" dy="1.9" fill="#111">Heart</text>
<circle cx="999.16" cy="413.74" r="1.3" fill="#fff" stroke="#9fb8d0" stroke-width="0.5"/>
<text transform="translate(1000.55,418.02) rotate(-288)" font-size="5.4" text-anchor="start" dy="1.9" fill="#111">Gluteus Maximus L</text>
<circle cx="1013.74" cy="406.31" r="1.3" fill="#fff" stroke="#9fb8d0" stroke-width="0.5"/>
<text transform="translate(1016.39,409.95) rotate(-306)" font-size="5.4" text-anchor="start" dy="1.9" fill="#111">Gluteus Maximus R</text>
<circle cx="1025.31" cy="394.74" r="1.3" fill="#fff" stroke="#9fb8d0" stroke-width="0.5"/>
<text transform="translate(1028.95,397.39) rotate(-324)" font-size="5.4" text-anchor="start" dy="1.9" fill="#111">Iliopsoas L</text>
<circle cx="1032.74" cy="380.16" r="1.3" fill="#fff" stroke="#9fb8d0" stroke-width="0.5"/>
<text transform="translate(1037.02,381.55) rotate(-342)" font-size="5.4" text-anchor="start" dy="1.9" fill="#111">Iliopsoas R</text>
</svg></body></html>
